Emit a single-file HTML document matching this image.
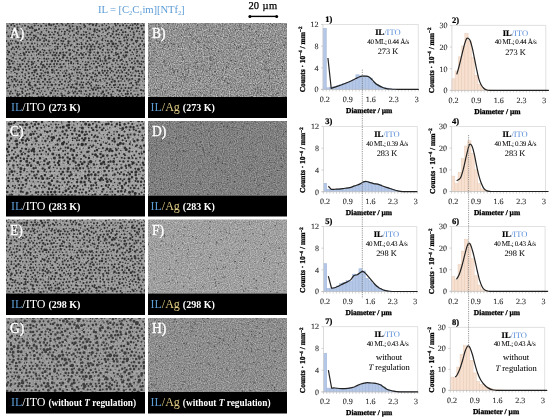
<!DOCTYPE html>
<html><head><meta charset="utf-8"><style>
html,body{margin:0;padding:0;background:#fff;}
body{width:550px;height:419px;position:relative;overflow:hidden;font-family:"Liberation Serif",serif;}
.pl{position:absolute;color:#fff;font-size:15px;line-height:16px;transform:scaleX(0.9);transform-origin:0 0;-webkit-text-stroke:0.4px #fff;}
.bl{position:absolute;color:#fff;font-size:12px;line-height:14px;white-space:nowrap;}
.bl b{font-size:10px;}
.b{color:#5b9bd5;}
.g{color:#e3cf86;}
.ttl{position:absolute;left:98px;top:1.7px;color:#5b9bd5;font-size:10.7px;letter-spacing:-0.1px;line-height:14px;white-space:nowrap;}
.ttl sub{font-size:6.5px;vertical-align:-1.5px;line-height:0;}
.sc{position:absolute;left:248.5px;top:0px;font-size:10.5px;line-height:12px;white-space:nowrap;color:#000;-webkit-text-stroke:0.25px #000;}
#w{position:absolute;left:0;top:0;width:550px;height:419px;will-change:transform;}
</style></head><body><div id="w">
<svg width="550" height="419" style="position:absolute;left:0;top:0"><defs><clipPath id="c00"><rect x="6" y="23" width="139" height="74"/></clipPath><clipPath id="c01"><rect x="148" y="23" width="139" height="74"/></clipPath><clipPath id="c10"><rect x="6" y="121" width="139" height="74.5"/></clipPath><clipPath id="c11"><rect x="148" y="121" width="139" height="74.5"/></clipPath><clipPath id="c20"><rect x="6" y="219.5" width="139" height="74.0"/></clipPath><clipPath id="c21"><rect x="148" y="219.5" width="139" height="74.0"/></clipPath><clipPath id="c30"><rect x="6" y="318" width="139" height="74"/></clipPath><clipPath id="c31"><rect x="148" y="318" width="139" height="74"/></clipPath><filter id="ag0" x="0" y="0" width="1" height="1" color-interpolation-filters="sRGB"><feTurbulence type="fractalNoise" baseFrequency="0.85" numOctaves="2" seed="3"/><feColorMatrix type="matrix" values="0.620 0 0 0 0.263  0.620 0 0 0 0.263  0.620 0 0 0 0.263  0 0 0 0 1"/><feGaussianBlur stdDeviation="0.35"/></filter><filter id="ag1" x="0" y="0" width="1" height="1" color-interpolation-filters="sRGB"><feTurbulence type="fractalNoise" baseFrequency="0.85" numOctaves="2" seed="4"/><feColorMatrix type="matrix" values="0.420 0 0 0 0.288  0.420 0 0 0 0.288  0.420 0 0 0 0.288  0 0 0 0 1"/><feGaussianBlur stdDeviation="0.35"/></filter><filter id="ag2" x="0" y="0" width="1" height="1" color-interpolation-filters="sRGB"><feTurbulence type="fractalNoise" baseFrequency="0.85" numOctaves="2" seed="5"/><feColorMatrix type="matrix" values="0.420 0 0 0 0.414  0.420 0 0 0 0.414  0.420 0 0 0 0.414  0 0 0 0 1"/><feGaussianBlur stdDeviation="0.35"/></filter><filter id="ag3" x="0" y="0" width="1" height="1" color-interpolation-filters="sRGB"><feTurbulence type="fractalNoise" baseFrequency="0.85" numOctaves="2" seed="6"/><feColorMatrix type="matrix" values="0.450 0 0 0 0.328  0.450 0 0 0 0.328  0.450 0 0 0 0.328  0 0 0 0 1"/><feGaussianBlur stdDeviation="0.35"/></filter><filter id="ib0" x="0" y="0" width="1" height="1" color-interpolation-filters="sRGB"><feTurbulence type="fractalNoise" baseFrequency="0.7" numOctaves="2" seed="11"/><feColorMatrix type="matrix" values="0.280 0 0 0 0.464  0.280 0 0 0 0.464  0.280 0 0 0 0.464  0 0 0 0 1"/></filter><filter id="ib1" x="0" y="0" width="1" height="1" color-interpolation-filters="sRGB"><feTurbulence type="fractalNoise" baseFrequency="0.7" numOctaves="2" seed="12"/><feColorMatrix type="matrix" values="0.280 0 0 0 0.495  0.280 0 0 0 0.495  0.280 0 0 0 0.495  0 0 0 0 1"/></filter><filter id="ib2" x="0" y="0" width="1" height="1" color-interpolation-filters="sRGB"><feTurbulence type="fractalNoise" baseFrequency="0.7" numOctaves="2" seed="13"/><feColorMatrix type="matrix" values="0.280 0 0 0 0.472  0.280 0 0 0 0.472  0.280 0 0 0 0.472  0 0 0 0 1"/></filter><filter id="ib3" x="0" y="0" width="1" height="1" color-interpolation-filters="sRGB"><feTurbulence type="fractalNoise" baseFrequency="0.7" numOctaves="2" seed="14"/><feColorMatrix type="matrix" values="0.280 0 0 0 0.464  0.280 0 0 0 0.464  0.280 0 0 0 0.464  0 0 0 0 1"/></filter><filter id="blur"><feGaussianBlur stdDeviation="0.4"/></filter></defs><g clip-path="url(#c00)"><rect x="6" y="23" width="139" height="74" fill="#9a9a9a" filter="url(#ib0)"/><g filter="url(#blur)" stroke="#303030" stroke-linecap="round" fill="none"><g class="p"><path d="M119.4 32.6h0M128.8 38.1h0M14.7 43.8h0M139.2 56.8h0M17.9 61.4h0M53.9 82.2h0M55.9 80.3h0M100.9 81.6h0M142.6 81.3h0M49.2 87.7h0M48.5 89.8h0M62.0 89.5h0M137.0 90.9h0M54.2 93.2h0M115.1 93.7h0" stroke-width="1.0"/><path d="M16.9 24.4h0M19.6 24.1h0M26.7 21.8h0M28.9 22.9h0M46.3 22.8h0M49.2 23.2h0M63.7 22.3h0M70.0 22.8h0M90.9 23.2h0M94.8 22.4h0M104.4 23.7h0M108.2 23.6h0M131.7 23.0h0M142.7 23.1h0M145.3 22.4h0M22.1 26.0h0M38.3 25.6h0M58.9 25.9h0M80.0 26.7h0M99.2 26.2h0M106.4 25.5h0M113.2 26.9h0M130.3 25.2h0M136.6 25.3h0M9.3 28.1h0M12.7 29.1h0M17.3 29.3h0M20.8 27.9h0M22.3 29.6h0M26.8 29.0h0M44.7 28.5h0M46.7 28.7h0M50.3 28.5h0M54.5 29.0h0M56.1 28.7h0M63.4 29.0h0M73.9 29.1h0M84.2 27.6h0M87.6 29.0h0M104.8 29.1h0M111.6 28.7h0M114.0 29.1h0M125.1 28.4h0M135.3 28.1h0M145.7 28.4h0M11.6 31.8h0M14.1 32.7h0M18.2 30.3h0M27.8 32.5h0M38.0 32.7h0M46.3 30.8h0M52.1 32.5h0M61.7 31.6h0M83.8 31.7h0M96.8 32.4h0M103.1 32.2h0M109.1 32.5h0M130.3 31.6h0M139.4 31.4h0M5.3 34.5h0M23.1 35.0h0M61.2 35.4h0M68.4 34.1h0M70.2 35.7h0M77.9 34.2h0M86.7 34.7h0M91.8 34.9h0M97.7 35.6h0M101.7 35.7h0M105.1 35.7h0M125.8 34.9h0M130.9 35.3h0M139.2 34.1h0M145.8 33.9h0M25.3 38.0h0M28.6 37.5h0M31.5 38.1h0M42.5 37.9h0M49.3 37.6h0M54.9 37.9h0M69.1 37.8h0M73.0 37.2h0M75.9 38.0h0M79.3 37.7h0M92.7 37.6h0M95.2 37.7h0M102.8 38.5h0M106.1 37.3h0M117.5 37.7h0M119.5 38.5h0M143.4 38.4h0M10.6 40.7h0M12.7 40.8h0M20.6 40.8h0M22.9 40.5h0M33.2 39.7h0M53.9 40.7h0M69.9 41.6h0M81.2 42.6h0M83.2 40.0h0M94.1 41.3h0M105.5 40.8h0M115.8 40.1h0M120.6 41.6h0M146.3 41.3h0M24.8 44.0h0M34.8 43.3h0M37.5 44.3h0M45.1 44.0h0M52.6 43.6h0M64.8 44.4h0M71.8 44.7h0M79.3 44.2h0M102.2 43.8h0M107.1 43.9h0M123.2 44.9h0M129.7 44.6h0M136.5 42.5h0M6.9 46.8h0M23.1 47.6h0M37.4 46.2h0M40.0 46.1h0M43.8 45.9h0M46.4 46.0h0M50.0 45.8h0M54.9 46.7h0M60.2 46.4h0M74.6 46.7h0M76.9 46.5h0M101.8 46.9h0M107.5 45.6h0M121.9 46.2h0M131.9 46.7h0M135.9 47.1h0M142.9 45.7h0M7.6 50.6h0M14.4 49.3h0M17.7 48.8h0M19.9 49.3h0M30.9 49.6h0M42.6 49.4h0M51.9 49.9h0M62.5 49.3h0M65.5 48.5h0M72.6 50.2h0M74.9 47.7h0M92.8 49.6h0M94.8 49.2h0M109.8 50.1h0M112.6 49.5h0M120.1 49.6h0M123.8 50.1h0M136.8 49.5h0M143.9 49.6h0M5.7 52.6h0M12.9 53.3h0M20.6 53.4h0M43.5 52.6h0M84.1 52.4h0M88.1 51.9h0M94.2 52.2h0M102.0 52.6h0M105.4 52.8h0M132.3 52.3h0M136.2 53.0h0M11.0 56.0h0M19.0 54.9h0M21.0 55.6h0M27.7 55.2h0M31.5 55.2h0M36.6 55.1h0M40.9 54.9h0M47.9 55.5h0M72.7 56.8h0M76.0 55.1h0M93.5 55.1h0M95.8 55.2h0M103.0 55.1h0M113.8 55.6h0M131.0 54.7h0M133.3 54.3h0M139.4 55.2h0M144.3 55.9h0M16.0 58.9h0M23.4 58.9h0M29.2 59.0h0M37.5 57.7h0M39.7 58.5h0M48.7 58.7h0M83.7 57.3h0M100.4 58.9h0M110.7 58.4h0M114.1 58.5h0M129.1 58.7h0M14.2 61.7h0M24.5 61.2h0M34.5 61.8h0M44.5 61.2h0M47.4 61.3h0M61.8 60.5h0M76.1 60.9h0M82.6 61.5h0M85.5 61.9h0M93.2 61.0h0M102.5 61.0h0M109.1 62.3h0M123.1 61.3h0M129.8 60.6h0M134.1 61.2h0M141.3 61.4h0M17.3 64.0h0M36.2 65.3h0M68.6 63.8h0M73.5 63.6h0M80.5 64.7h0M91.4 63.4h0M101.4 64.5h0M112.0 64.6h0M115.6 63.1h0M118.0 64.5h0M124.6 64.9h0M145.8 63.9h0M18.3 66.7h0M51.6 66.7h0M58.9 67.6h0M65.2 66.5h0M69.0 68.0h0M73.2 66.8h0M75.5 67.9h0M82.8 67.3h0M92.2 68.0h0M112.9 66.5h0M115.9 67.3h0M137.8 66.4h0M6.8 69.5h0M9.1 69.4h0M43.3 71.1h0M54.0 71.1h0M60.4 70.4h0M64.2 70.9h0M71.2 69.5h0M80.2 69.4h0M89.9 69.2h0M95.2 70.5h0M97.4 70.5h0M115.3 69.3h0M121.1 70.3h0M11.2 71.8h0M14.8 72.4h0M25.1 73.9h0M54.5 73.0h0M62.8 73.0h0M85.8 73.1h0M89.9 73.6h0M110.4 72.8h0M113.1 71.8h0M119.7 73.0h0M130.6 72.6h0M133.0 72.9h0M136.8 71.8h0M139.5 73.6h0M6.0 75.9h0M16.4 76.4h0M19.4 76.3h0M22.6 76.1h0M25.4 75.6h0M36.5 76.7h0M47.9 75.5h0M49.8 76.5h0M52.9 77.4h0M59.9 75.8h0M66.7 75.6h0M73.7 75.9h0M77.9 75.3h0M80.7 76.0h0M94.8 76.5h0M101.2 75.6h0M111.5 76.9h0M141.3 76.6h0M144.9 76.2h0M11.5 79.7h0M17.3 79.9h0M21.5 79.6h0M41.5 78.0h0M51.1 78.8h0M55.0 79.4h0M62.2 79.7h0M66.5 78.7h0M71.0 79.6h0M79.0 78.9h0M86.4 79.3h0M89.4 79.4h0M96.2 79.3h0M103.1 78.7h0M120.7 77.9h0M135.3 80.5h0M6.7 82.6h0M34.2 81.6h0M39.1 82.1h0M68.1 82.3h0M74.9 81.1h0M77.3 82.1h0M83.6 82.4h0M91.5 82.3h0M97.9 81.7h0M104.8 80.9h0M121.2 81.1h0M124.7 80.9h0M128.3 81.0h0M8.3 85.3h0M24.1 84.4h0M39.5 84.2h0M40.5 84.5h0M48.5 85.1h0M64.7 84.9h0M98.7 85.4h0M102.7 86.1h0M106.6 85.5h0M125.9 85.0h0M129.8 83.8h0M139.3 85.1h0M144.3 85.3h0M9.1 87.5h0M13.6 87.1h0M15.8 86.6h0M20.9 88.2h0M57.5 88.4h0M60.1 88.7h0M91.5 88.3h0M108.2 87.7h0M111.7 87.4h0M114.7 87.4h0M138.0 87.9h0M8.1 91.0h0M17.8 91.8h0M25.5 91.0h0M27.6 90.0h0M32.4 89.7h0M38.6 91.3h0M41.6 91.0h0M44.9 91.3h0M58.2 90.9h0M65.2 90.7h0M68.6 91.3h0M72.5 90.9h0M90.0 90.6h0M98.7 90.9h0M110.0 89.4h0M130.8 90.2h0M134.0 90.9h0M140.7 90.3h0M5.0 95.0h0M12.6 93.4h0M40.1 92.8h0M42.7 94.2h0M46.2 94.5h0M57.6 93.8h0M64.7 95.3h0M69.7 92.7h0M81.1 93.3h0M84.4 94.1h0M86.5 94.4h0M97.7 93.9h0M118.3 94.6h0M121.6 93.8h0M135.1 94.4h0M141.5 93.7h0M15.1 96.7h0M22.3 96.2h0M32.3 96.9h0M68.7 96.5h0M99.3 96.8h0M116.6 96.4h0M122.8 95.6h0M129.5 96.4h0M145.7 97.0h0M105.0 98.5h0M120.9 99.0h0" stroke-width="1.5"/><path d="M5.3 23.2h0M9.7 22.4h0M13.2 23.4h0M23.2 22.6h0M36.4 23.2h0M40.0 22.3h0M43.6 23.1h0M53.6 24.4h0M57.1 23.7h0M67.9 23.5h0M78.1 22.5h0M80.4 23.2h0M84.0 22.5h0M87.5 22.7h0M96.7 23.7h0M101.5 22.0h0M111.5 22.3h0M115.0 23.8h0M117.8 23.4h0M122.3 22.6h0M125.1 23.1h0M128.1 22.7h0M137.8 23.9h0M7.7 26.1h0M11.2 25.0h0M14.4 26.0h0M17.6 27.5h0M25.0 25.5h0M28.2 26.7h0M31.6 26.8h0M34.6 25.6h0M41.1 26.1h0M46.1 25.5h0M51.2 25.2h0M55.6 26.7h0M62.5 24.8h0M66.0 25.2h0M69.5 26.0h0M72.6 26.3h0M77.0 26.9h0M84.1 25.1h0M85.2 26.3h0M89.5 24.2h0M96.0 25.5h0M102.4 25.2h0M109.2 27.3h0M115.8 25.6h0M119.8 25.7h0M123.0 25.3h0M126.5 25.8h0M132.6 25.2h0M141.1 25.7h0M143.6 25.3h0M5.2 28.8h0M29.9 28.1h0M32.6 28.3h0M36.3 30.0h0M39.0 29.0h0M59.6 29.5h0M67.2 30.0h0M70.2 28.2h0M77.1 28.9h0M80.9 28.7h0M90.2 29.1h0M94.6 29.3h0M97.3 29.7h0M102.3 29.2h0M107.9 28.7h0M118.0 29.6h0M121.4 30.0h0M142.0 28.8h0M6.5 32.4h0M21.9 30.6h0M24.4 31.4h0M31.7 32.5h0M41.5 31.9h0M48.7 32.1h0M55.0 31.8h0M57.8 33.0h0M64.9 31.7h0M69.4 31.6h0M72.6 30.7h0M76.4 32.9h0M78.3 31.5h0M86.0 32.3h0M89.5 33.4h0M99.4 31.1h0M105.9 30.5h0M113.4 31.6h0M116.4 31.1h0M123.0 32.3h0M125.5 31.9h0M133.6 32.2h0M136.8 31.3h0M10.7 35.7h0M12.8 34.0h0M15.8 34.3h0M20.7 36.1h0M27.2 35.1h0M30.2 34.5h0M34.0 35.4h0M35.8 36.3h0M40.6 34.2h0M43.8 35.0h0M45.8 35.6h0M50.0 34.8h0M53.8 34.6h0M58.8 35.3h0M64.6 34.0h0M74.0 35.1h0M81.4 34.8h0M83.8 34.8h0M93.4 34.8h0M107.6 34.0h0M112.6 33.9h0M116.4 34.4h0M118.6 34.5h0M121.8 34.7h0M128.1 35.0h0M134.1 34.6h0M142.6 34.8h0M8.3 36.2h0M14.0 37.3h0M17.7 38.1h0M19.8 38.4h0M34.3 38.1h0M38.0 37.9h0M44.6 38.5h0M52.3 37.6h0M58.5 38.9h0M62.9 37.9h0M65.6 39.1h0M81.2 37.9h0M86.4 36.9h0M98.8 36.6h0M110.8 36.0h0M113.8 37.4h0M124.1 37.5h0M126.4 37.3h0M133.5 37.0h0M137.7 37.7h0M140.5 38.0h0M6.5 40.9h0M15.8 41.5h0M26.9 39.6h0M30.8 40.0h0M37.4 40.3h0M40.0 40.0h0M44.0 40.9h0M46.3 40.1h0M48.9 41.3h0M56.5 40.6h0M61.2 40.8h0M63.3 41.2h0M68.3 41.3h0M74.2 41.3h0M76.8 40.1h0M87.4 40.9h0M90.8 40.2h0M97.4 41.4h0M102.2 40.1h0M107.9 41.1h0M119.2 41.5h0M124.5 40.5h0M127.4 39.9h0M135.9 41.0h0M137.3 40.7h0M142.1 40.9h0M8.4 43.3h0M11.3 43.6h0M21.4 43.2h0M27.9 43.0h0M32.0 43.5h0M42.0 44.1h0M47.9 44.2h0M55.0 43.2h0M58.2 44.2h0M62.3 43.8h0M68.5 43.2h0M77.3 44.0h0M81.7 44.2h0M85.8 43.5h0M89.4 44.2h0M92.9 44.4h0M96.5 43.3h0M99.4 44.4h0M109.0 43.6h0M116.0 43.8h0M120.7 43.5h0M126.9 43.2h0M133.4 43.6h0M140.2 44.3h0M144.0 44.2h0M9.1 45.1h0M12.8 47.4h0M16.1 47.0h0M18.7 46.8h0M25.5 47.1h0M30.2 46.6h0M33.4 46.7h0M57.3 46.7h0M64.8 46.4h0M67.5 45.4h0M70.7 45.5h0M81.4 46.9h0M84.3 46.5h0M87.4 46.5h0M94.5 46.8h0M98.4 47.1h0M103.8 46.0h0M111.4 46.5h0M114.7 46.6h0M117.7 45.7h0M125.5 47.6h0M128.0 46.1h0M138.9 46.1h0M145.1 46.3h0M11.5 49.3h0M24.5 49.0h0M28.0 49.4h0M37.9 49.9h0M44.4 50.4h0M49.4 50.5h0M55.1 49.5h0M57.7 48.4h0M78.0 49.9h0M81.6 48.5h0M86.7 48.7h0M100.1 48.6h0M102.9 49.9h0M107.6 49.8h0M126.7 48.6h0M130.1 50.2h0M134.2 49.4h0M140.2 49.1h0M16.4 52.1h0M23.5 53.0h0M26.2 51.9h0M29.0 52.3h0M32.8 51.7h0M36.5 51.5h0M40.2 52.1h0M46.5 53.0h0M50.4 52.8h0M53.8 52.6h0M56.6 52.9h0M63.2 52.6h0M66.4 52.5h0M70.3 53.4h0M74.0 51.6h0M76.9 52.8h0M81.0 53.3h0M108.2 52.5h0M111.7 52.0h0M115.8 52.7h0M117.9 53.9h0M121.1 52.8h0M125.6 52.2h0M127.3 52.3h0M137.3 51.4h0M142.0 52.4h0M146.5 52.9h0M7.9 54.5h0M14.3 54.4h0M38.7 54.1h0M43.6 55.0h0M52.7 55.3h0M58.9 55.6h0M63.4 54.9h0M64.9 55.3h0M69.7 54.9h0M79.1 55.1h0M85.9 54.3h0M89.3 55.2h0M99.6 56.1h0M105.4 56.5h0M109.1 55.4h0M116.2 54.8h0M118.9 56.4h0M123.4 55.6h0M136.9 55.7h0M6.9 58.8h0M9.5 60.0h0M13.1 57.7h0M20.0 58.4h0M25.3 58.3h0M33.3 58.4h0M44.2 58.4h0M46.6 58.9h0M53.9 58.5h0M57.0 58.1h0M59.8 59.2h0M67.1 57.7h0M70.7 58.6h0M74.1 58.7h0M76.2 58.3h0M81.4 58.1h0M87.9 58.3h0M90.6 58.6h0M94.6 57.9h0M104.7 58.2h0M118.7 57.9h0M121.8 59.4h0M124.6 57.3h0M131.9 58.7h0M135.2 58.3h0M142.6 58.1h0M146.3 58.1h0M8.3 61.9h0M11.6 61.1h0M22.2 60.3h0M28.5 61.5h0M31.8 62.1h0M38.1 60.7h0M41.7 61.9h0M55.1 60.9h0M58.0 61.3h0M66.0 60.8h0M68.4 60.7h0M71.2 62.1h0M77.6 60.9h0M88.5 62.2h0M96.0 61.4h0M100.5 61.0h0M116.8 60.4h0M120.4 60.5h0M126.5 62.0h0M143.3 61.8h0M5.0 64.6h0M12.9 63.5h0M19.7 64.5h0M22.7 64.1h0M26.9 64.1h0M31.7 64.4h0M33.3 63.6h0M41.0 64.0h0M46.9 64.2h0M50.2 64.3h0M54.1 64.1h0M56.9 63.9h0M60.2 64.2h0M63.7 63.9h0M71.1 63.3h0M77.8 63.5h0M85.3 64.7h0M86.8 64.5h0M93.9 63.7h0M98.0 63.2h0M104.0 63.4h0M107.0 63.6h0M122.0 64.0h0M127.4 64.4h0M131.9 62.7h0M134.9 63.5h0M139.4 63.5h0M141.4 64.3h0M7.9 67.3h0M14.4 67.7h0M20.4 66.6h0M25.4 66.8h0M28.6 66.1h0M32.2 67.4h0M35.1 67.1h0M38.6 67.0h0M42.4 67.4h0M44.9 66.9h0M49.1 66.4h0M54.5 66.5h0M78.8 67.1h0M85.7 67.4h0M89.8 66.4h0M99.5 65.8h0M102.6 66.7h0M106.8 67.3h0M123.3 67.5h0M125.5 67.8h0M130.5 67.0h0M140.3 67.0h0M144.3 67.6h0M13.6 70.2h0M15.6 69.3h0M23.0 69.4h0M26.2 70.2h0M29.5 68.9h0M34.1 70.4h0M40.8 70.1h0M46.9 68.7h0M56.7 70.1h0M66.6 70.6h0M74.3 69.7h0M77.5 69.6h0M85.2 70.1h0M87.3 69.9h0M102.3 70.4h0M104.8 70.7h0M107.7 70.8h0M111.6 70.8h0M118.3 70.6h0M124.5 70.1h0M128.8 70.0h0M132.7 69.0h0M135.6 70.7h0M138.4 71.0h0M142.0 71.2h0M145.3 69.8h0M6.4 72.7h0M16.9 73.8h0M22.1 72.6h0M28.7 73.3h0M32.1 72.8h0M34.6 72.2h0M37.3 74.0h0M41.5 73.4h0M45.2 72.5h0M52.4 72.6h0M58.3 73.1h0M65.7 73.2h0M69.2 74.3h0M72.2 73.4h0M76.9 72.5h0M79.5 72.4h0M81.5 73.8h0M93.0 73.0h0M95.4 74.2h0M103.0 73.0h0M106.8 73.0h0M116.7 72.5h0M122.3 72.0h0M126.4 73.1h0M142.5 73.2h0M9.6 76.7h0M12.0 76.7h0M29.3 76.7h0M33.7 75.3h0M43.7 75.4h0M56.8 76.1h0M70.4 76.3h0M83.8 75.8h0M97.0 75.7h0M105.4 75.3h0M108.0 75.7h0M114.6 75.3h0M118.6 76.1h0M121.4 76.2h0M125.4 76.0h0M128.3 74.6h0M131.5 75.6h0M135.2 75.8h0M139.0 76.0h0M7.9 78.2h0M25.0 77.9h0M28.2 80.1h0M31.8 78.8h0M34.5 78.4h0M38.7 79.3h0M49.2 79.4h0M58.5 79.0h0M69.6 77.7h0M82.1 78.7h0M93.2 79.7h0M100.2 80.1h0M106.0 78.4h0M109.5 78.9h0M112.5 79.6h0M117.3 78.1h0M122.6 79.0h0M126.8 78.7h0M129.5 79.6h0M132.3 78.8h0M144.4 79.1h0M8.4 82.7h0M12.4 81.6h0M16.0 81.2h0M19.5 81.9h0M21.7 81.9h0M26.6 82.1h0M29.8 82.4h0M37.6 82.1h0M43.0 81.7h0M47.4 82.1h0M50.1 82.3h0M60.1 81.8h0M65.1 81.6h0M69.9 81.2h0M81.5 82.2h0M88.1 82.2h0M95.6 80.9h0M107.0 83.2h0M111.7 82.0h0M118.6 81.2h0M131.2 82.9h0M136.1 82.6h0M138.2 81.7h0M145.4 81.4h0M9.8 85.5h0M14.2 84.9h0M17.8 84.7h0M21.0 84.8h0M30.5 85.4h0M44.8 84.5h0M55.6 84.6h0M59.2 84.9h0M61.8 84.0h0M68.5 85.0h0M72.4 84.7h0M79.8 84.8h0M82.6 84.9h0M86.4 84.0h0M89.8 83.7h0M91.1 85.7h0M96.4 85.2h0M109.8 84.8h0M113.8 85.2h0M115.3 84.8h0M119.8 84.7h0M123.2 84.8h0M132.9 85.5h0M136.7 84.6h0M7.2 88.3h0M22.6 88.8h0M25.6 86.9h0M30.1 88.7h0M32.3 87.5h0M37.3 88.5h0M39.3 88.4h0M43.2 87.6h0M47.7 87.8h0M53.8 88.4h0M63.5 88.4h0M67.1 87.5h0M73.9 87.4h0M81.2 87.6h0M83.4 87.6h0M88.2 87.7h0M94.5 87.4h0M100.3 87.9h0M104.2 87.5h0M118.2 87.3h0M121.4 88.2h0M125.4 88.0h0M128.7 88.1h0M131.3 87.8h0M136.1 88.3h0M141.1 90.0h0M145.5 87.3h0M10.8 91.5h0M15.5 90.6h0M22.1 91.5h0M34.2 90.8h0M52.3 90.4h0M55.4 90.9h0M75.2 91.4h0M79.1 91.0h0M81.2 91.3h0M85.8 90.9h0M95.9 89.8h0M106.5 90.4h0M112.9 91.6h0M117.3 90.0h0M123.8 90.4h0M127.6 91.2h0M143.3 90.7h0M146.4 90.0h0M9.8 93.5h0M17.2 94.0h0M19.6 94.3h0M22.6 92.9h0M26.8 94.1h0M29.3 93.7h0M33.3 93.1h0M37.2 94.0h0M61.4 93.6h0M68.2 93.3h0M73.6 93.0h0M77.3 93.6h0M89.8 94.0h0M93.7 93.5h0M101.4 93.4h0M104.2 94.6h0M108.4 93.0h0M111.2 94.4h0M125.6 93.9h0M131.0 93.6h0M137.9 94.7h0M145.4 93.7h0M8.2 97.4h0M10.9 97.0h0M25.6 96.0h0M29.6 96.7h0M35.0 98.8h0M38.6 96.7h0M41.4 96.7h0M43.6 96.7h0M48.4 96.4h0M52.9 96.4h0M55.4 96.2h0M58.0 97.3h0M65.8 97.2h0M71.9 96.7h0M75.2 96.2h0M79.5 96.9h0M81.9 97.5h0M86.3 97.0h0M88.8 96.3h0M93.1 96.4h0M96.8 96.6h0M103.4 96.5h0M106.6 96.0h0M111.4 96.2h0M113.2 97.1h0M119.8 96.6h0M126.1 96.8h0M132.7 96.2h0M136.9 97.1h0M141.7 97.3h0M144.4 97.3h0M26.6 98.2h0M37.2 98.4h0M53.0 98.2h0M70.1 98.9h0M108.8 98.7h0" stroke-width="2.0"/><path d="M34.1 22.6h0M61.5 22.7h0M72.8 23.0h0M135.0 23.5h0M49.3 24.5h0M92.9 24.7h0M129.0 27.7h0M132.2 28.7h0M137.9 28.1h0M34.8 30.4h0M94.5 31.2h0M143.7 31.9h0M11.0 37.2h0M89.4 38.0h0M111.5 41.3h0M131.8 39.7h0M17.8 43.1h0M91.1 46.5h0M34.4 49.0h0M69.5 50.1h0M90.2 49.7h0M116.6 48.4h0M9.0 52.1h0M60.2 53.0h0M90.2 52.5h0M97.9 52.7h0M24.4 54.5h0M55.3 55.2h0M82.6 54.8h0M126.2 55.5h0M63.0 57.4h0M97.8 58.5h0M108.9 58.2h0M51.8 61.1h0M105.6 60.6h0M113.4 60.4h0M137.6 61.3h0M9.4 63.9h0M43.3 65.2h0M10.4 67.2h0M61.4 67.0h0M96.5 67.3h0M110.0 68.4h0M119.8 67.0h0M133.4 67.4h0M18.4 69.4h0M36.1 70.3h0M52.2 70.0h0M47.8 72.6h0M99.2 73.1h0M40.2 76.2h0M64.1 76.1h0M87.1 75.5h0M91.5 77.2h0M14.6 79.2h0M45.0 79.3h0M77.6 78.2h0M139.1 79.6h0M114.7 81.3h0M29.0 84.6h0M35.3 85.3h0M51.8 85.1h0M76.5 84.1h0M71.2 87.3h0M76.4 88.4h0M97.7 87.9h0M93.0 89.5h0M102.9 91.7h0M119.7 90.9h0M50.8 93.1h0M127.7 93.7h0M17.8 95.4h0M62.3 95.7h0" stroke-width="2.5"/><path d="M113.0 43.7h0" stroke-width="3.0"/></g></g></g><rect x="6" y="97" width="139" height="21" fill="#000"/><g clip-path="url(#c01)"><rect x="148" y="23" width="139" height="74" fill="#888" filter="url(#ag0)"/><path d="M237.9 90.4h0M240.3 46.5h0M152.2 61.8h0M172.7 86.4h0M227.7 83.9h0M224.6 80.3h0M221.2 77.8h0M200.0 57.2h0M156.5 27.4h0M199.4 80.7h0M197.7 25.1h0M181.6 34.8h0M154.1 47.9h0M274.3 42.5h0M221.2 50.6h0M163.8 61.5h0M167.6 23.7h0M210.1 58.4h0M217.7 94.8h0M257.2 57.5h0M153.7 51.3h0M185.8 76.1h0M266.1 69.6h0M275.8 24.8h0M226.1 78.6h0M185.1 77.9h0M250.3 26.9h0M152.8 93.1h0M238.4 47.4h0M173.1 70.1h0M211.4 79.8h0M242.0 69.2h0M269.1 49.8h0M254.2 93.1h0M251.1 44.8h0M249.5 26.2h0M209.6 53.2h0M187.0 29.6h0M265.9 63.1h0M231.8 87.1h0M237.0 95.5h0M181.4 55.1h0M284.0 45.4h0M262.2 37.9h0M215.4 34.6h0M160.0 42.1h0M286.0 26.1h0M178.5 46.4h0M219.9 44.6h0M256.6 58.4h0M156.5 35.4h0M215.3 71.5h0M272.0 68.9h0M278.6 35.2h0M242.0 56.9h0M260.2 45.1h0M203.5 70.2h0M206.7 71.6h0M284.9 44.8h0M209.5 30.2h0M190.0 47.0h0M223.0 28.8h0M218.2 85.6h0M257.7 87.6h0M265.3 89.5h0M165.2 91.8h0M188.4 72.1h0M235.5 29.8h0M173.2 87.6h0M225.9 71.9h0M240.9 86.4h0M193.8 66.5h0M164.2 60.9h0M183.1 73.8h0M198.1 41.4h0M208.1 48.5h0M258.8 74.5h0M179.9 86.3h0M159.5 42.7h0M205.0 95.5h0M210.6 66.7h0M271.8 78.6h0M150.7 45.4h0M199.0 51.1h0M267.3 85.5h0M226.6 67.7h0M184.5 79.4h0M244.3 75.2h0M256.0 89.7h0M161.2 86.1h0M281.8 83.0h0M283.1 60.9h0M204.8 45.5h0M253.9 76.7h0M229.0 83.4h0M161.3 88.2h0M277.4 61.6h0M266.1 62.0h0M253.4 38.4h0M204.5 64.8h0M181.9 76.8h0M277.0 93.5h0M253.9 85.2h0M173.8 44.2h0M234.3 63.7h0M211.0 60.2h0M188.3 28.8h0M157.5 72.6h0M286.9 24.4h0M217.1 31.3h0M229.0 28.2h0M269.9 78.2h0M273.1 94.5h0M271.1 60.9h0M206.5 85.9h0M264.8 68.9h0M246.2 47.1h0M228.8 63.2h0M212.3 90.3h0M224.7 80.9h0M149.2 60.4h0M197.8 67.0h0M210.3 68.3h0M210.5 81.8h0M275.0 68.7h0M156.5 90.3h0M273.2 73.9h0M271.8 39.8h0M243.4 50.0h0M191.7 44.8h0M193.0 32.0h0M158.7 24.3h0M206.3 37.0h0M213.9 59.5h0M285.8 43.0h0M192.9 79.0h0M240.3 29.1h0M258.0 92.5h0M230.1 48.3h0M255.4 47.3h0M206.9 47.4h0M192.9 39.2h0M272.4 25.0h0M243.4 30.6h0M284.4 71.4h0M165.8 65.2h0M164.5 40.8h0M265.5 82.5h0M196.8 68.9h0M278.6 78.7h0M185.1 69.7h0M218.5 51.4h0M212.6 74.3h0M162.6 48.7h0M268.1 71.0h0M159.0 26.4h0M230.7 37.0h0M212.3 63.9h0M173.6 72.6h0M152.5 77.2h0M183.7 59.5h0M285.5 38.3h0M182.6 73.7h0M240.3 68.3h0M214.7 55.1h0M192.6 94.6h0M262.3 50.9h0M200.4 92.6h0M198.0 75.2h0M156.1 40.5h0M177.6 71.5h0M239.8 25.8h0M156.0 67.3h0M278.2 93.2h0M256.3 74.3h0M231.3 60.4h0M209.6 68.9h0M171.4 43.4h0M260.6 91.0h0M268.8 69.7h0M156.6 57.2h0M189.5 93.3h0M200.4 78.1h0M222.6 70.0h0M235.3 61.4h0M282.7 69.1h0M265.2 93.3h0M265.1 52.8h0M199.1 42.3h0M230.9 79.9h0M187.1 82.8h0M252.3 96.3h0M271.5 87.1h0M196.5 62.7h0M208.6 42.8h0M168.6 46.2h0M150.1 43.3h0M234.5 44.5h0M205.1 25.4h0M201.9 65.9h0M256.7 31.7h0M272.3 48.1h0M190.5 34.5h0M219.1 79.4h0M249.1 32.3h0M226.8 66.4h0M260.4 88.8h0M172.4 68.5h0M149.6 28.6h0M150.0 64.0h0M211.1 49.0h0M246.4 66.1h0M248.3 76.3h0M210.5 92.8h0M258.4 35.9h0M173.9 29.3h0M282.5 66.7h0M174.4 71.2h0M164.4 45.0h0M150.9 58.5h0" stroke="#3a3a3a" stroke-width="1.3" stroke-linecap="round" opacity="0.8"/></g><rect x="148" y="97" width="139" height="21" fill="#000"/><g clip-path="url(#c10)"><rect x="6" y="121" width="139" height="74.5" fill="#a2a2a2" filter="url(#ib1)"/><g filter="url(#blur)" stroke="#2e2e2e" stroke-linecap="round" fill="none"><g class="p"><path d="M140.6 136.8h0M119.4 143.3h0M50.1 143.2h0M43.1 157.4h0M101.5 171.5h0M15.4 192.2h0" stroke-width="0.5"/><path d="M103.2 119.5h0M61.9 123.5h0M107.8 129.4h0M27.8 132.0h0M39.2 130.4h0M58.8 132.1h0M21.6 133.3h0M45.4 136.0h0M103.4 134.7h0M16.2 138.7h0M104.5 137.1h0M33.9 142.0h0M107.5 142.1h0M12.1 143.8h0M112.4 144.3h0M38.3 147.7h0M83.3 148.0h0M77.6 152.4h0M125.2 150.5h0M45.8 154.8h0M80.2 154.3h0M89.2 155.3h0M51.5 158.9h0M78.0 158.9h0M93.5 157.0h0M40.9 161.9h0M95.6 160.9h0M35.8 166.0h0M63.1 163.7h0M74.2 171.4h0M80.3 171.7h0M125.1 170.7h0M79.8 175.8h0M57.9 178.5h0M46.7 186.1h0M65.2 187.9h0M96.7 191.8h0M79.8 195.0h0" stroke-width="1.0"/><path d="M43.8 120.0h0M61.6 122.1h0M63.2 119.9h0M75.9 120.8h0M43.6 125.3h0M46.3 125.1h0M51.1 124.3h0M58.5 124.6h0M73.8 125.0h0M77.4 123.8h0M81.3 125.1h0M143.3 124.0h0M5.3 128.3h0M10.1 126.9h0M12.8 127.8h0M44.5 126.9h0M52.1 127.7h0M80.0 127.5h0M88.6 127.6h0M109.9 127.8h0M120.0 128.5h0M138.2 128.3h0M15.4 131.7h0M32.3 131.8h0M70.6 130.5h0M105.7 130.3h0M114.0 131.8h0M121.9 130.4h0M145.3 131.3h0M36.7 133.5h0M51.9 134.0h0M56.4 135.7h0M99.2 133.1h0M111.4 135.5h0M114.0 134.3h0M138.4 135.0h0M7.1 136.7h0M19.5 138.1h0M31.5 137.9h0M43.2 138.1h0M101.4 138.2h0M133.1 139.0h0M137.5 139.3h0M7.4 140.2h0M42.1 141.0h0M49.7 141.7h0M59.9 141.1h0M68.4 142.1h0M72.6 140.5h0M91.8 140.7h0M99.6 140.4h0M103.4 141.9h0M130.3 141.9h0M35.3 144.1h0M38.8 144.7h0M42.8 144.6h0M55.5 144.7h0M73.3 144.9h0M90.2 145.3h0M97.8 143.6h0M132.5 145.0h0M29.0 149.2h0M55.3 147.7h0M79.8 149.1h0M96.0 147.2h0M98.9 148.6h0M115.7 148.6h0M118.2 148.3h0M139.2 147.7h0M145.3 148.0h0M15.4 152.1h0M23.2 152.2h0M54.1 150.3h0M65.3 150.6h0M70.5 151.0h0M101.2 151.5h0M105.3 150.7h0M120.8 150.5h0M132.2 151.6h0M141.2 151.9h0M56.5 155.1h0M131.6 156.0h0M34.7 158.5h0M104.8 159.0h0M108.4 158.8h0M117.1 157.3h0M16.3 161.7h0M88.2 161.9h0M131.6 161.8h0M20.0 164.3h0M22.9 165.4h0M50.2 166.3h0M70.0 164.5h0M75.8 165.7h0M96.8 164.4h0M113.9 164.3h0M121.1 164.8h0M140.3 165.1h0M13.7 168.1h0M18.1 167.3h0M30.9 166.5h0M53.5 167.5h0M57.0 168.2h0M90.9 167.7h0M94.9 167.7h0M103.6 167.7h0M119.6 169.1h0M9.1 172.0h0M27.0 171.7h0M46.3 172.0h0M54.4 171.3h0M59.2 171.6h0M112.7 170.8h0M140.2 171.7h0M17.2 173.5h0M26.5 176.0h0M50.1 176.5h0M64.4 175.0h0M98.2 175.5h0M112.7 175.3h0M139.0 174.3h0M143.0 175.4h0M145.1 174.6h0M49.6 178.5h0M70.6 178.7h0M98.3 179.3h0M113.8 178.7h0M13.0 181.3h0M21.1 181.9h0M29.6 180.9h0M33.2 181.8h0M38.0 181.7h0M41.1 182.4h0M60.1 182.4h0M71.8 182.7h0M114.5 182.6h0M15.3 185.7h0M62.2 185.2h0M82.6 186.1h0M113.0 185.5h0M117.8 185.2h0M9.6 187.4h0M25.3 187.1h0M29.2 189.0h0M34.1 187.3h0M37.1 188.2h0M41.6 187.7h0M88.5 188.0h0M98.4 187.7h0M118.2 187.9h0M30.6 191.7h0M93.8 191.2h0M106.9 192.0h0M110.1 191.9h0M6.3 195.2h0M26.1 194.3h0M38.0 194.4h0M83.0 195.3h0M88.6 194.6h0M100.1 194.5h0M120.4 197.4h0M129.5 197.2h0" stroke-width="1.5"/><path d="M10.4 120.8h0M20.4 120.8h0M29.2 120.2h0M33.9 121.1h0M73.8 121.4h0M80.5 121.2h0M88.0 121.2h0M91.6 120.8h0M98.9 122.0h0M119.8 122.4h0M125.6 120.1h0M133.8 120.2h0M142.1 121.4h0M146.6 120.7h0M14.0 123.2h0M20.0 124.8h0M31.4 123.5h0M55.8 124.4h0M92.9 123.8h0M96.7 125.2h0M102.3 124.8h0M111.8 124.7h0M128.4 123.3h0M132.2 124.1h0M137.2 125.7h0M140.6 125.0h0M25.3 127.8h0M32.9 126.4h0M41.2 127.8h0M48.8 126.2h0M60.4 127.6h0M72.2 127.6h0M75.0 128.4h0M91.8 128.0h0M99.7 127.4h0M103.7 128.3h0M115.3 126.6h0M146.2 127.5h0M8.7 130.6h0M23.7 130.5h0M35.0 131.5h0M44.8 131.3h0M50.1 131.1h0M79.2 131.3h0M86.0 131.7h0M89.5 131.7h0M97.0 130.4h0M109.2 132.5h0M117.1 131.8h0M124.6 131.6h0M129.5 130.1h0M133.7 129.4h0M136.0 130.6h0M13.2 134.3h0M25.0 135.3h0M48.8 136.3h0M60.1 135.5h0M67.7 135.2h0M76.5 134.3h0M87.0 134.3h0M91.7 135.0h0M95.2 135.4h0M107.4 134.8h0M123.2 135.5h0M127.6 134.8h0M130.5 134.5h0M142.3 135.4h0M145.1 134.5h0M23.1 137.3h0M47.5 138.4h0M51.3 137.3h0M62.7 138.1h0M67.0 137.4h0M72.7 138.3h0M75.0 138.2h0M77.4 137.8h0M82.1 138.2h0M88.9 138.2h0M94.1 137.1h0M121.6 136.1h0M125.0 138.2h0M143.5 137.9h0M9.5 140.8h0M28.9 140.2h0M57.5 140.5h0M76.9 140.3h0M79.2 140.3h0M89.0 140.5h0M112.3 140.8h0M122.6 140.2h0M126.3 141.0h0M146.6 141.0h0M8.0 144.3h0M19.7 142.7h0M22.9 143.0h0M31.9 144.6h0M47.6 145.5h0M66.8 143.7h0M70.6 145.1h0M93.3 145.4h0M106.0 143.2h0M109.3 144.3h0M129.8 144.1h0M137.0 145.2h0M140.6 146.2h0M17.1 147.3h0M21.9 148.4h0M40.7 148.0h0M44.3 147.6h0M53.2 147.6h0M60.7 148.4h0M65.6 147.5h0M76.6 147.8h0M91.9 146.8h0M102.9 148.0h0M129.7 148.3h0M135.8 146.3h0M141.4 148.2h0M12.0 150.6h0M39.8 150.9h0M42.8 150.6h0M46.2 151.7h0M50.2 150.8h0M58.7 150.0h0M63.1 150.9h0M81.3 152.3h0M88.7 151.5h0M94.8 151.0h0M136.3 151.4h0M6.8 155.7h0M9.2 154.8h0M13.8 154.2h0M25.1 153.8h0M34.2 154.4h0M37.3 154.4h0M41.3 154.2h0M48.2 154.2h0M65.1 154.6h0M67.8 153.6h0M92.6 154.2h0M112.0 155.8h0M119.3 153.5h0M124.0 154.1h0M125.0 155.2h0M134.3 155.3h0M139.2 153.7h0M141.8 153.8h0M145.7 154.4h0M6.0 158.6h0M20.5 158.1h0M27.2 158.6h0M31.2 159.0h0M46.3 158.9h0M81.0 158.9h0M85.7 157.3h0M101.0 157.6h0M114.2 158.6h0M121.8 157.8h0M124.5 158.2h0M132.4 158.0h0M136.0 158.5h0M140.1 157.6h0M9.9 161.0h0M14.0 160.4h0M29.6 162.7h0M49.4 161.9h0M54.3 162.2h0M64.4 160.5h0M80.5 161.7h0M100.0 160.8h0M108.3 162.0h0M119.8 161.3h0M128.1 161.3h0M138.5 161.9h0M146.4 161.8h0M8.5 164.8h0M17.4 165.0h0M39.5 164.7h0M44.0 164.6h0M55.2 165.2h0M68.2 163.3h0M88.5 164.1h0M104.6 164.3h0M116.8 164.5h0M132.3 164.0h0M136.6 164.6h0M5.6 168.6h0M9.9 168.9h0M24.6 168.8h0M35.9 168.1h0M44.9 169.4h0M60.7 168.8h0M64.2 168.6h0M73.3 168.5h0M83.3 168.3h0M88.5 168.5h0M99.9 168.1h0M112.3 168.2h0M126.2 168.0h0M130.7 167.5h0M135.3 168.7h0M141.8 167.8h0M146.8 168.3h0M14.4 171.6h0M24.1 170.4h0M31.6 171.4h0M33.6 171.8h0M44.4 171.1h0M50.3 171.6h0M70.5 172.0h0M77.9 170.5h0M85.3 171.4h0M93.6 172.0h0M109.0 170.9h0M117.8 172.6h0M121.2 172.2h0M128.2 172.4h0M9.4 174.3h0M13.0 175.1h0M20.6 174.7h0M29.5 174.6h0M36.9 174.6h0M57.5 176.3h0M76.1 175.2h0M103.6 175.4h0M119.7 173.9h0M126.7 175.2h0M8.2 178.1h0M12.5 178.7h0M19.2 178.5h0M22.7 177.7h0M27.9 178.1h0M32.2 178.3h0M38.8 178.4h0M53.9 178.0h0M66.9 178.1h0M73.0 178.9h0M77.3 179.4h0M89.1 178.6h0M109.4 179.4h0M118.0 178.9h0M120.5 179.0h0M124.2 179.3h0M141.6 177.9h0M143.0 178.7h0M44.4 182.6h0M64.7 182.3h0M88.9 180.6h0M90.4 181.9h0M103.1 179.9h0M122.6 180.7h0M135.4 181.0h0M12.8 185.9h0M19.2 184.9h0M26.3 183.7h0M31.4 185.5h0M39.3 185.7h0M43.0 185.4h0M54.0 185.4h0M59.1 185.8h0M67.2 184.5h0M70.1 186.6h0M77.7 185.9h0M93.5 185.2h0M96.4 184.9h0M101.6 185.9h0M109.1 185.1h0M124.5 184.6h0M128.4 185.7h0M132.5 185.5h0M136.0 185.4h0M140.8 185.4h0M143.8 184.8h0M6.2 187.9h0M14.7 187.8h0M18.3 188.2h0M44.7 187.3h0M52.3 189.0h0M59.3 189.0h0M72.3 188.3h0M76.4 187.7h0M80.2 189.6h0M83.2 189.6h0M96.2 187.9h0M108.2 187.2h0M110.4 189.0h0M115.2 188.9h0M125.3 190.1h0M130.7 188.0h0M138.3 188.5h0M12.5 191.3h0M22.9 192.1h0M38.3 192.0h0M59.4 192.1h0M63.0 192.5h0M79.1 192.7h0M82.0 192.4h0M89.4 190.9h0M102.1 191.8h0M112.3 191.8h0M124.8 191.8h0M141.6 192.4h0M19.0 195.6h0M21.2 196.6h0M30.5 195.9h0M41.2 195.3h0M44.6 194.6h0M55.9 194.9h0M65.1 194.8h0M75.1 195.5h0M112.3 195.3h0M120.1 195.7h0M122.8 194.8h0M125.9 195.9h0M130.5 195.3h0M139.2 193.9h0M144.0 194.9h0M8.4 197.2h0" stroke-width="2.0"/><path d="M5.4 119.6h0M15.0 121.7h0M18.2 120.4h0M36.2 121.4h0M42.0 122.0h0M49.1 120.4h0M53.0 121.3h0M83.4 121.3h0M95.3 121.3h0M107.9 120.2h0M111.3 121.2h0M122.5 120.0h0M130.9 120.8h0M11.3 124.0h0M22.5 125.0h0M35.0 124.6h0M38.5 123.9h0M67.1 125.4h0M69.1 124.7h0M106.1 124.2h0M108.4 123.8h0M116.8 123.9h0M120.0 125.0h0M124.6 124.3h0M18.0 126.8h0M21.2 128.6h0M29.7 127.6h0M37.1 128.3h0M56.7 127.6h0M68.8 127.8h0M96.3 127.1h0M126.2 127.2h0M130.5 127.0h0M133.5 127.3h0M13.2 131.7h0M47.3 132.1h0M55.3 130.7h0M62.6 131.4h0M66.4 130.6h0M74.6 130.5h0M93.2 130.1h0M102.1 129.9h0M139.5 131.8h0M7.5 135.3h0M10.9 134.3h0M18.8 134.0h0M33.5 133.9h0M40.8 134.7h0M64.7 134.3h0M72.2 134.1h0M84.8 134.7h0M119.1 135.0h0M134.5 134.6h0M11.1 138.4h0M27.4 138.8h0M35.3 138.5h0M38.4 136.8h0M59.2 139.1h0M85.3 138.3h0M97.5 137.0h0M114.1 138.8h0M118.7 138.1h0M128.4 137.6h0M15.5 141.0h0M16.7 140.7h0M25.8 140.7h0M36.5 141.1h0M45.4 140.9h0M51.9 140.2h0M63.9 142.2h0M95.6 141.1h0M114.7 141.5h0M134.3 141.2h0M137.6 140.3h0M142.5 140.2h0M26.6 144.5h0M57.5 144.4h0M78.2 144.5h0M85.7 144.3h0M100.9 144.8h0M123.3 143.7h0M144.1 145.4h0M9.0 146.8h0M14.4 148.1h0M25.9 148.9h0M48.9 148.9h0M68.0 147.8h0M71.3 149.2h0M88.9 147.8h0M110.4 149.3h0M124.9 147.7h0M8.1 151.8h0M20.7 151.3h0M28.6 151.6h0M31.7 150.8h0M34.1 151.4h0M87.4 151.9h0M97.0 150.1h0M109.4 150.9h0M112.3 151.0h0M116.5 150.0h0M129.2 151.4h0M144.0 151.8h0M18.1 155.8h0M21.8 154.2h0M28.4 156.1h0M59.1 155.0h0M72.6 155.1h0M76.8 155.3h0M84.1 155.7h0M100.5 153.9h0M107.3 155.6h0M115.7 155.0h0M16.0 157.4h0M23.9 158.7h0M40.0 158.2h0M59.7 157.6h0M62.8 157.4h0M67.6 157.4h0M69.8 158.9h0M88.9 158.0h0M97.2 156.5h0M128.8 158.1h0M144.6 158.4h0M6.8 161.3h0M20.7 161.1h0M33.8 160.8h0M44.4 160.7h0M58.0 162.8h0M59.1 161.0h0M68.0 161.8h0M73.4 161.0h0M75.6 162.4h0M84.4 162.0h0M110.5 161.4h0M123.5 161.4h0M142.9 162.8h0M13.3 165.5h0M31.1 165.6h0M59.1 165.0h0M87.3 166.3h0M93.9 164.6h0M108.7 165.5h0M125.7 165.7h0M143.7 164.8h0M33.7 168.3h0M42.7 168.6h0M49.2 167.7h0M76.3 168.5h0M80.0 168.3h0M116.2 169.3h0M121.5 167.7h0M20.5 171.7h0M38.1 171.4h0M62.8 171.9h0M67.6 171.6h0M89.1 171.5h0M98.4 172.2h0M104.6 170.9h0M131.8 171.9h0M143.4 170.6h0M5.7 175.1h0M34.5 175.5h0M41.5 176.2h0M44.9 175.0h0M51.8 175.7h0M61.2 174.3h0M69.4 175.7h0M71.4 174.5h0M85.2 176.1h0M91.4 174.4h0M106.3 175.1h0M114.6 174.4h0M123.9 174.4h0M129.8 174.3h0M135.7 174.9h0M35.9 178.0h0M47.4 178.4h0M81.8 178.2h0M85.8 178.3h0M94.6 178.7h0M106.3 178.8h0M132.0 177.3h0M136.4 178.6h0M4.9 181.1h0M8.8 181.0h0M18.1 181.2h0M51.9 180.8h0M57.4 181.6h0M68.4 181.9h0M77.1 182.1h0M84.5 181.9h0M95.7 182.7h0M111.1 181.2h0M119.6 183.2h0M125.8 182.9h0M129.3 181.5h0M137.8 181.6h0M141.1 181.8h0M8.0 185.9h0M22.8 185.1h0M35.2 186.6h0M50.5 184.7h0M74.1 186.1h0M85.2 184.8h0M91.3 185.6h0M106.1 185.6h0M121.9 186.2h0M21.4 188.3h0M49.0 188.7h0M56.3 187.7h0M68.5 188.8h0M91.5 188.8h0M103.3 189.2h0M122.3 188.0h0M134.3 187.9h0M144.4 188.1h0M7.2 192.1h0M20.9 191.5h0M36.1 192.5h0M42.7 191.9h0M47.7 192.2h0M51.0 191.9h0M70.5 191.9h0M86.0 192.6h0M118.1 191.4h0M121.3 191.3h0M132.7 191.4h0M145.0 191.5h0M9.5 195.5h0M32.2 195.6h0M48.1 195.0h0M61.5 195.8h0M68.4 195.4h0M72.0 195.5h0M92.4 195.2h0M95.2 194.6h0M107.5 195.3h0M115.0 195.1h0M134.8 195.4h0M146.1 194.2h0" stroke-width="2.5"/><path d="M24.3 120.9h0M69.0 121.6h0M138.6 120.8h0M9.1 124.1h0M26.6 124.4h0M85.6 123.9h0M89.2 124.7h0M63.2 127.0h0M82.4 127.9h0M122.8 128.4h0M143.0 128.1h0M18.6 130.5h0M82.1 132.1h0M30.7 134.6h0M79.4 135.4h0M108.8 138.2h0M22.3 140.1h0M84.0 140.1h0M16.9 144.2h0M118.0 144.7h0M120.4 143.3h0M6.8 148.9h0M107.0 149.1h0M126.2 149.5h0M73.8 150.4h0M52.9 154.1h0M95.5 154.8h0M103.1 155.8h0M12.0 157.9h0M54.4 158.0h0M74.0 158.0h0M26.7 161.3h0M37.8 162.4h0M103.7 162.0h0M113.6 161.5h0M133.3 162.8h0M27.5 164.9h0M47.9 163.6h0M78.7 165.1h0M82.2 163.7h0M101.3 163.7h0M129.2 165.2h0M20.9 168.6h0M68.2 168.6h0M106.9 167.5h0M138.5 169.3h0M11.8 171.6h0M135.9 172.0h0M88.4 174.9h0M95.3 174.8h0M16.5 178.7h0M42.7 178.5h0M62.9 178.8h0M101.4 178.3h0M129.1 179.0h0M26.0 180.0h0M49.0 183.2h0M81.0 182.1h0M100.2 179.9h0M107.3 181.6h0M145.2 181.2h0M27.1 192.9h0M54.9 192.0h0M65.9 190.7h0M75.5 191.3h0M129.5 192.2h0M135.3 193.2h0M11.7 194.9h0M52.2 195.1h0" stroke-width="3.0"/><path d="M56.9 120.0h0M53.4 137.7h0M62.7 143.8h0M82.2 144.4h0M33.4 149.3h0M90.6 161.7h0M105.0 195.5h0" stroke-width="3.5"/></g></g></g><rect x="6" y="195.5" width="139" height="21.0" fill="#000"/><g clip-path="url(#c11)"><rect x="148" y="121" width="139" height="74.5" fill="#888" filter="url(#ag1)"/><path d="M285.7 131.4h0M222.6 163.5h0M215.9 169.6h0M230.3 142.2h0M243.1 126.9h0M220.2 189.9h0M169.0 142.8h0M223.4 126.5h0M271.6 173.8h0M281.1 148.5h0M218.4 182.8h0M225.7 164.1h0M169.5 189.6h0M148.4 194.7h0M256.9 172.8h0M183.3 151.0h0M160.5 179.5h0M177.5 165.5h0M180.4 122.6h0M207.5 194.2h0M259.8 184.8h0M155.7 193.6h0M174.1 170.5h0M218.4 159.0h0M192.9 125.0h0M227.5 126.5h0M276.4 150.7h0M255.8 156.8h0M221.3 123.4h0M148.5 150.6h0M232.7 122.2h0M151.6 147.8h0M180.2 137.0h0M227.5 179.5h0M215.8 163.5h0M199.2 170.0h0M252.0 165.4h0M176.5 160.0h0M224.0 154.1h0M172.3 158.9h0M211.7 136.2h0M249.8 169.9h0M200.5 141.9h0M232.3 127.4h0M258.3 185.6h0M212.6 159.1h0M152.3 182.3h0M186.4 181.3h0M234.4 181.5h0M178.2 126.9h0M230.9 192.9h0M181.9 184.6h0M201.4 133.6h0M153.7 133.2h0M281.1 158.4h0M154.6 172.8h0M275.8 146.1h0M179.6 150.8h0M200.1 146.4h0M177.1 152.0h0M221.6 170.6h0M283.1 153.9h0M200.9 123.5h0M152.9 156.3h0M198.7 194.3h0M185.7 138.2h0M197.1 128.8h0M181.0 185.4h0M154.8 134.8h0M210.8 145.4h0M253.0 155.8h0M208.5 131.2h0M163.7 135.2h0M281.4 166.5h0M160.1 161.2h0M258.0 194.1h0M264.2 179.7h0M236.3 173.2h0M156.9 149.5h0M269.7 176.4h0M212.5 186.6h0M183.8 136.7h0M202.9 149.8h0M155.9 145.3h0M246.9 124.0h0M254.4 180.4h0M269.6 160.7h0M241.8 138.9h0M167.5 125.8h0M227.0 126.9h0M196.1 121.1h0M225.2 172.2h0M237.3 133.1h0M176.8 168.4h0M184.9 151.7h0M176.2 138.7h0M199.8 183.1h0M196.3 144.0h0M277.6 170.4h0M156.7 153.6h0M194.6 130.3h0M200.7 184.2h0M209.6 152.3h0M182.2 121.9h0M202.9 147.9h0M213.0 126.0h0M283.5 134.6h0M161.5 141.2h0M180.8 127.2h0M188.3 128.9h0M252.6 142.6h0M152.0 191.8h0M174.5 131.6h0M203.9 152.0h0M275.9 126.5h0M235.5 160.0h0M171.9 143.0h0M218.4 161.8h0M212.2 145.8h0M161.5 188.8h0" stroke="#3a3a3a" stroke-width="1.3" stroke-linecap="round" opacity="0.8"/></g><rect x="148" y="195.5" width="139" height="21.0" fill="#000"/><g clip-path="url(#c20)"><rect x="6" y="219.5" width="139" height="74.0" fill="#9c9c9c" filter="url(#ib2)"/><g filter="url(#blur)" stroke="#323232" stroke-linecap="round" fill="none"><g class="p"><path d="M101.0 221.3h0M84.0 229.1h0M39.6 230.8h0M131.1 231.0h0M10.6 234.4h0M95.3 236.8h0M24.8 238.6h0M144.6 242.4h0M49.8 247.5h0M101.0 246.6h0M138.6 246.9h0M105.8 248.3h0M70.5 252.1h0M74.0 252.6h0M44.3 254.4h0M60.5 254.6h0M11.4 257.6h0M82.0 263.0h0M111.5 261.2h0M28.8 265.2h0M137.1 266.7h0M52.7 271.2h0M18.7 275.8h0M97.3 277.1h0M19.3 278.7h0M109.0 285.5h0M125.2 287.9h0M38.4 290.8h0M104.2 293.8h0M106.5 294.8h0" stroke-width="1.0"/><path d="M12.9 220.2h0M17.7 220.7h0M19.6 219.1h0M23.9 219.2h0M27.2 220.4h0M35.8 219.3h0M44.1 219.9h0M56.4 220.1h0M60.5 219.6h0M64.3 218.8h0M67.3 219.1h0M102.8 218.8h0M115.0 219.7h0M130.7 219.4h0M137.9 220.7h0M140.2 219.3h0M143.6 220.1h0M8.0 222.5h0M10.9 222.6h0M19.1 222.9h0M37.8 222.8h0M59.8 223.5h0M62.9 220.9h0M70.6 221.9h0M80.1 221.0h0M83.6 222.9h0M87.4 223.0h0M91.0 222.3h0M106.7 222.9h0M115.1 223.0h0M118.0 222.7h0M135.3 221.8h0M141.7 222.4h0M144.8 221.8h0M30.2 224.9h0M50.6 225.1h0M57.4 224.7h0M61.0 225.1h0M75.7 224.8h0M81.0 224.9h0M88.8 225.5h0M91.8 226.0h0M96.5 225.3h0M99.5 225.8h0M102.1 224.8h0M113.0 225.1h0M116.0 225.6h0M126.4 224.9h0M7.5 229.3h0M11.5 228.7h0M14.5 228.5h0M17.2 230.0h0M25.4 228.9h0M38.1 227.9h0M42.4 227.0h0M46.3 229.2h0M56.2 229.0h0M59.0 229.9h0M66.2 228.5h0M69.9 228.4h0M80.6 228.0h0M101.1 229.2h0M107.4 227.8h0M114.7 228.7h0M119.4 227.9h0M128.1 227.4h0M133.1 228.4h0M145.5 228.3h0M7.5 230.6h0M17.0 230.3h0M23.9 230.5h0M47.0 231.2h0M85.2 230.2h0M100.1 230.7h0M102.5 231.5h0M119.3 231.7h0M127.3 231.5h0M139.4 231.7h0M14.4 233.6h0M29.5 234.8h0M31.7 235.3h0M52.2 234.6h0M77.5 234.2h0M83.7 235.1h0M97.1 234.8h0M121.6 234.4h0M135.6 234.4h0M8.6 237.2h0M13.6 237.0h0M16.7 237.4h0M34.3 237.8h0M40.7 238.2h0M46.8 235.8h0M51.4 237.3h0M61.4 237.5h0M63.6 237.4h0M77.8 238.1h0M82.2 237.9h0M89.1 237.9h0M136.1 236.2h0M18.8 239.1h0M21.0 239.4h0M31.6 241.1h0M34.6 240.5h0M52.4 240.1h0M55.6 240.9h0M66.6 240.0h0M69.6 240.3h0M77.7 240.4h0M87.0 240.6h0M93.8 240.3h0M100.7 241.2h0M107.0 240.1h0M118.8 240.2h0M121.2 241.1h0M128.1 240.1h0M145.3 240.6h0M20.4 242.9h0M23.3 242.7h0M57.2 243.5h0M69.1 242.9h0M70.4 244.1h0M75.1 243.5h0M82.7 244.2h0M103.3 243.2h0M112.2 244.2h0M10.5 247.7h0M14.7 246.1h0M28.4 246.3h0M32.7 247.2h0M38.9 246.8h0M77.2 247.2h0M80.7 247.1h0M83.9 246.1h0M90.8 245.3h0M94.2 246.9h0M104.4 246.5h0M107.4 246.8h0M130.2 246.7h0M13.4 248.9h0M26.6 250.3h0M34.1 249.9h0M37.1 248.8h0M53.9 249.9h0M57.9 249.7h0M64.6 249.5h0M72.4 249.8h0M74.5 250.4h0M97.9 248.5h0M109.7 249.2h0M132.5 249.9h0M140.6 248.8h0M8.1 251.8h0M23.3 252.0h0M25.5 254.0h0M46.3 252.4h0M59.7 252.1h0M62.7 252.5h0M66.1 252.0h0M87.1 252.2h0M93.0 252.8h0M111.2 251.3h0M116.8 252.5h0M145.1 252.2h0M9.7 255.3h0M26.9 255.5h0M37.1 255.4h0M40.5 254.6h0M47.4 256.3h0M58.8 255.4h0M71.6 256.6h0M75.2 256.0h0M108.9 255.3h0M111.7 255.3h0M126.8 256.7h0M138.0 255.5h0M141.3 255.8h0M143.0 254.8h0M146.9 254.6h0M7.8 258.6h0M14.6 257.9h0M25.1 258.1h0M28.0 258.0h0M37.2 257.6h0M46.2 257.8h0M62.7 258.8h0M66.4 258.9h0M83.5 258.3h0M108.5 258.0h0M113.9 258.8h0M145.5 258.3h0M6.4 261.2h0M8.7 260.9h0M22.8 261.7h0M30.0 261.6h0M50.5 261.3h0M71.1 260.5h0M75.1 260.9h0M87.3 261.8h0M88.4 260.7h0M95.7 262.3h0M109.9 260.2h0M116.8 260.5h0M122.9 262.2h0M126.3 260.6h0M132.9 261.6h0M137.1 261.8h0M144.5 260.9h0M7.8 265.0h0M14.1 263.9h0M20.9 265.5h0M25.0 265.0h0M35.5 264.7h0M39.2 264.6h0M42.5 264.8h0M50.2 263.7h0M57.3 263.5h0M59.4 265.0h0M97.1 264.2h0M99.5 264.0h0M104.0 263.8h0M108.3 264.1h0M125.4 263.3h0M128.0 263.6h0M146.2 264.7h0M8.9 266.9h0M20.0 267.2h0M25.3 267.5h0M36.7 267.5h0M39.9 268.1h0M50.6 267.7h0M91.5 267.1h0M130.0 266.6h0M18.5 270.1h0M25.3 269.4h0M39.7 270.0h0M55.3 270.3h0M66.5 271.2h0M69.3 270.3h0M83.9 270.9h0M112.1 268.9h0M118.1 270.3h0M124.9 270.3h0M135.2 269.8h0M142.6 270.7h0M23.0 272.7h0M30.6 274.5h0M39.8 273.5h0M82.8 273.9h0M84.4 273.8h0M92.1 273.1h0M113.6 273.1h0M116.3 273.0h0M140.1 272.2h0M7.7 275.7h0M21.4 276.2h0M38.5 276.7h0M45.4 275.7h0M48.8 277.0h0M62.0 276.6h0M65.6 275.1h0M74.0 275.8h0M80.9 274.9h0M83.5 275.8h0M91.3 276.3h0M100.2 277.0h0M107.6 276.0h0M112.3 277.2h0M115.0 276.2h0M118.7 275.7h0M122.3 276.7h0M125.5 277.8h0M141.7 276.0h0M30.9 279.4h0M33.7 278.8h0M43.2 280.1h0M48.4 278.9h0M60.8 279.4h0M67.6 279.1h0M70.9 277.8h0M100.3 278.6h0M106.8 279.2h0M116.8 278.5h0M126.5 279.9h0M130.7 279.8h0M12.1 282.5h0M31.8 281.3h0M42.3 282.8h0M53.5 283.4h0M55.6 281.5h0M76.3 282.4h0M80.2 281.7h0M93.5 281.8h0M96.3 281.6h0M108.4 282.6h0M114.9 281.1h0M125.8 282.4h0M129.2 281.5h0M142.7 282.3h0M145.5 281.5h0M15.8 285.1h0M39.9 285.2h0M63.6 285.0h0M71.6 285.2h0M81.7 285.7h0M102.9 285.5h0M113.2 284.9h0M116.6 285.0h0M127.0 285.4h0M133.4 285.1h0M136.8 284.8h0M145.0 285.3h0M10.6 288.8h0M15.5 288.3h0M21.9 288.4h0M27.1 288.3h0M38.9 288.2h0M42.0 288.7h0M66.1 288.3h0M85.8 288.1h0M105.2 287.8h0M121.0 288.1h0M135.2 289.2h0M9.0 291.7h0M22.4 292.5h0M47.1 292.0h0M57.9 291.3h0M61.0 290.7h0M63.8 291.7h0M70.6 291.0h0M85.8 291.7h0M88.6 290.8h0M108.0 289.8h0M122.2 292.8h0M127.8 291.4h0M130.4 291.7h0M136.7 290.8h0M9.2 294.1h0M15.7 294.5h0M59.3 293.9h0M62.5 295.4h0M68.4 294.7h0M75.7 294.6h0M84.7 294.1h0M89.8 295.0h0M93.8 294.2h0M97.0 293.0h0M117.7 294.7h0M125.2 294.0h0M129.3 294.2h0M131.2 294.9h0" stroke-width="1.5"/><path d="M6.4 220.8h0M8.8 219.1h0M30.4 218.6h0M35.1 219.9h0M47.6 219.7h0M49.2 219.7h0M53.8 219.8h0M70.6 220.2h0M75.2 220.6h0M78.4 218.8h0M82.2 220.1h0M85.1 218.1h0M87.8 219.2h0M92.3 219.4h0M94.5 219.5h0M99.9 218.5h0M105.9 220.4h0M108.9 219.5h0M112.9 219.2h0M119.8 219.7h0M122.8 219.2h0M125.8 218.9h0M14.6 222.2h0M24.2 222.7h0M31.4 222.3h0M35.0 222.2h0M45.2 222.6h0M47.9 222.4h0M52.9 223.7h0M56.0 222.4h0M66.5 221.1h0M73.3 222.1h0M76.2 223.0h0M93.9 223.3h0M97.4 223.0h0M103.3 223.5h0M111.3 223.0h0M120.6 223.3h0M124.6 221.8h0M129.1 222.1h0M132.0 222.3h0M139.2 223.3h0M6.0 226.2h0M9.5 225.5h0M16.7 226.4h0M19.5 225.8h0M23.8 225.2h0M26.3 225.3h0M39.4 225.1h0M48.8 225.6h0M54.4 225.1h0M64.9 224.6h0M67.6 225.3h0M72.0 224.2h0M85.0 225.9h0M104.5 225.0h0M109.1 225.6h0M120.2 226.5h0M122.3 225.6h0M133.0 225.5h0M136.8 225.8h0M141.5 225.7h0M143.8 225.2h0M21.2 228.2h0M28.6 228.8h0M32.5 228.6h0M34.6 229.5h0M49.2 228.6h0M52.2 229.0h0M63.7 229.2h0M73.1 229.0h0M76.6 229.7h0M87.5 229.0h0M91.0 227.8h0M93.3 228.3h0M97.5 227.6h0M104.6 228.1h0M112.2 229.4h0M121.5 227.9h0M125.4 228.3h0M134.7 227.9h0M142.7 228.8h0M8.8 230.7h0M11.9 231.6h0M20.4 230.3h0M27.2 230.6h0M30.8 231.4h0M33.5 231.0h0M37.4 231.4h0M43.5 231.9h0M51.4 230.7h0M54.6 230.5h0M60.7 231.2h0M64.9 231.3h0M67.7 231.7h0M71.5 230.8h0M74.0 230.5h0M78.9 230.8h0M83.2 231.7h0M88.8 230.7h0M91.7 231.9h0M95.8 231.7h0M106.6 231.3h0M109.1 231.1h0M112.6 231.0h0M116.8 231.3h0M123.5 230.8h0M134.7 231.0h0M143.9 231.3h0M146.6 231.8h0M8.2 235.5h0M17.2 233.6h0M20.4 233.7h0M24.7 235.1h0M34.6 233.2h0M39.2 235.0h0M41.3 234.5h0M46.1 234.5h0M48.7 234.4h0M55.0 232.8h0M62.9 233.8h0M66.4 234.5h0M69.3 233.9h0M74.0 233.9h0M89.8 235.2h0M93.9 233.3h0M100.5 235.0h0M104.0 234.5h0M111.2 233.1h0M115.5 235.0h0M116.8 233.9h0M124.5 234.2h0M129.7 233.4h0M131.3 235.0h0M138.3 234.2h0M143.4 235.0h0M146.6 234.6h0M5.5 237.2h0M20.8 236.9h0M22.9 237.9h0M26.2 237.0h0M30.3 238.0h0M38.0 237.4h0M44.0 237.4h0M54.2 237.9h0M57.5 237.7h0M67.7 237.5h0M73.2 236.8h0M76.4 236.9h0M84.4 236.9h0M93.1 237.7h0M103.0 236.7h0M113.2 237.8h0M116.0 237.8h0M120.0 237.2h0M123.8 238.1h0M126.0 237.7h0M132.5 236.9h0M140.2 237.2h0M143.5 237.2h0M6.5 239.4h0M11.3 240.5h0M14.6 239.9h0M28.3 240.2h0M38.7 238.8h0M42.1 240.5h0M46.7 240.3h0M49.7 241.1h0M59.8 239.9h0M62.9 241.2h0M73.6 240.8h0M80.0 240.5h0M83.8 239.8h0M90.1 240.3h0M104.6 240.5h0M132.5 239.9h0M135.7 240.8h0M138.3 240.5h0M142.8 241.3h0M6.2 243.1h0M9.9 243.6h0M10.9 243.2h0M16.5 241.2h0M25.8 244.1h0M29.7 242.6h0M33.2 243.1h0M36.7 243.5h0M39.6 242.7h0M47.7 244.0h0M53.9 243.0h0M61.8 243.8h0M64.3 242.3h0M78.3 243.1h0M84.5 243.0h0M89.2 242.1h0M92.7 243.4h0M94.5 244.3h0M98.9 243.0h0M106.3 242.9h0M109.3 242.7h0M116.2 243.4h0M119.2 244.5h0M124.3 244.0h0M126.3 243.7h0M129.8 243.4h0M134.4 243.4h0M136.6 242.7h0M140.7 243.3h0M7.0 246.8h0M17.5 245.9h0M20.5 246.3h0M34.7 245.8h0M42.2 246.4h0M45.2 244.7h0M52.9 246.9h0M55.8 246.7h0M62.9 246.0h0M66.4 246.9h0M72.6 246.7h0M97.8 246.0h0M111.3 245.1h0M113.5 245.2h0M117.6 245.5h0M121.3 247.2h0M125.7 245.8h0M131.6 246.1h0M134.1 246.9h0M143.3 246.5h0M145.2 246.6h0M6.2 250.4h0M9.5 249.5h0M16.7 248.7h0M19.4 250.0h0M23.6 249.3h0M41.4 248.7h0M50.3 249.4h0M69.5 249.5h0M79.2 250.6h0M81.7 249.9h0M85.6 251.3h0M89.8 251.2h0M92.0 251.0h0M96.6 248.6h0M102.6 249.9h0M117.4 250.4h0M119.4 248.8h0M123.5 248.3h0M127.0 250.4h0M137.0 250.1h0M144.9 249.3h0M11.4 252.3h0M14.4 252.6h0M16.8 251.8h0M30.7 253.0h0M35.4 252.3h0M39.5 251.6h0M42.8 251.6h0M48.6 252.1h0M52.7 252.4h0M56.1 252.3h0M77.1 252.6h0M80.7 252.0h0M83.2 252.4h0M90.6 252.1h0M96.5 251.9h0M100.8 252.2h0M103.8 252.3h0M117.0 251.4h0M122.2 252.8h0M125.3 252.5h0M129.0 252.2h0M130.4 251.2h0M140.1 252.3h0M141.7 251.2h0M5.2 255.3h0M12.2 254.8h0M16.0 256.3h0M20.1 256.0h0M24.5 255.1h0M30.4 254.9h0M33.7 255.9h0M50.7 255.2h0M53.5 255.3h0M63.7 254.9h0M67.4 255.6h0M78.0 255.3h0M82.0 255.4h0M85.0 254.7h0M89.2 254.7h0M92.2 255.2h0M96.0 255.6h0M98.9 255.4h0M102.6 254.7h0M106.6 255.3h0M116.3 255.9h0M119.9 255.6h0M123.4 254.8h0M130.8 256.0h0M17.8 258.8h0M21.4 258.2h0M35.2 257.7h0M42.6 258.9h0M48.9 258.8h0M53.2 257.7h0M56.6 257.9h0M59.4 257.9h0M73.1 258.9h0M77.0 257.4h0M79.2 258.5h0M87.8 258.3h0M93.4 257.7h0M96.7 259.1h0M102.1 258.5h0M105.7 259.0h0M112.4 258.0h0M118.1 258.8h0M122.2 258.2h0M128.5 259.1h0M131.8 258.6h0M138.5 258.4h0M141.9 258.3h0M11.4 261.8h0M15.6 261.0h0M20.0 261.1h0M26.4 261.7h0M33.0 261.9h0M35.7 261.4h0M41.0 261.3h0M55.1 261.9h0M56.6 260.0h0M62.5 261.8h0M64.7 260.4h0M67.9 261.1h0M79.2 262.0h0M92.1 262.2h0M99.7 261.2h0M105.9 261.8h0M120.0 262.3h0M130.6 260.6h0M140.2 260.7h0M11.3 264.3h0M31.0 264.2h0M45.2 264.5h0M52.2 265.2h0M63.0 264.3h0M66.3 264.7h0M69.4 264.9h0M73.5 263.7h0M76.3 264.0h0M80.9 264.8h0M84.4 264.5h0M86.3 263.0h0M90.4 263.7h0M111.8 264.8h0M114.8 264.3h0M118.6 264.2h0M122.1 265.7h0M132.8 265.2h0M135.0 264.1h0M138.8 263.5h0M141.7 264.3h0M6.5 267.5h0M13.8 268.2h0M23.9 267.3h0M33.4 267.4h0M43.8 267.6h0M46.9 269.0h0M53.4 268.0h0M58.0 267.3h0M61.1 267.8h0M64.3 267.9h0M68.0 267.1h0M71.4 267.5h0M74.2 266.4h0M78.2 267.7h0M82.4 267.3h0M85.6 268.0h0M89.9 266.5h0M96.2 268.1h0M99.9 267.4h0M102.3 267.5h0M104.8 267.8h0M108.2 267.5h0M116.8 268.4h0M119.2 267.6h0M122.6 266.8h0M133.8 267.8h0M139.8 267.8h0M7.5 270.5h0M9.9 269.6h0M16.0 270.8h0M21.1 271.4h0M27.9 270.5h0M31.6 270.4h0M34.6 269.9h0M45.4 271.2h0M48.7 270.7h0M59.4 269.7h0M62.1 270.6h0M74.7 270.0h0M76.1 269.3h0M88.3 270.2h0M90.9 269.8h0M94.4 269.9h0M98.4 269.4h0M100.0 270.5h0M105.3 270.7h0M108.7 270.6h0M122.2 270.1h0M132.5 271.5h0M138.6 270.6h0M145.1 270.2h0M6.1 274.1h0M8.8 271.9h0M16.7 273.0h0M20.3 273.0h0M26.3 274.1h0M33.2 273.1h0M37.6 272.4h0M43.4 273.8h0M50.5 272.6h0M55.5 273.0h0M56.8 273.0h0M60.2 274.7h0M64.0 273.1h0M68.2 273.8h0M70.7 273.4h0M78.7 273.0h0M95.5 273.0h0M99.3 273.2h0M103.0 274.0h0M106.6 272.9h0M108.4 273.2h0M126.6 273.1h0M134.5 272.2h0M137.7 274.7h0M145.2 272.3h0M10.7 275.4h0M15.0 275.2h0M25.3 276.2h0M27.9 276.4h0M32.2 277.0h0M35.2 275.6h0M42.6 275.9h0M52.3 276.1h0M55.3 276.5h0M60.6 276.1h0M69.9 275.7h0M77.2 277.6h0M87.3 276.0h0M93.2 276.0h0M103.5 276.0h0M128.3 276.7h0M132.3 275.5h0M135.1 275.7h0M138.4 277.4h0M145.6 276.5h0M6.1 280.0h0M12.8 280.0h0M15.4 280.5h0M24.3 278.9h0M25.8 279.6h0M40.6 279.6h0M54.2 278.9h0M58.6 278.7h0M64.2 279.2h0M77.9 279.6h0M90.0 278.4h0M91.6 279.2h0M95.8 279.0h0M103.0 279.6h0M108.6 279.6h0M112.4 279.2h0M119.9 279.3h0M123.3 278.9h0M134.2 279.3h0M138.2 279.1h0M139.6 279.8h0M7.5 283.0h0M14.5 282.2h0M17.7 282.7h0M21.5 283.0h0M25.4 282.1h0M27.7 282.0h0M35.3 281.8h0M37.6 282.0h0M45.4 281.9h0M48.3 282.3h0M59.6 283.3h0M63.1 282.6h0M66.4 281.9h0M69.2 281.8h0M72.7 281.4h0M83.4 283.1h0M86.7 282.4h0M90.0 282.2h0M100.3 281.6h0M104.2 282.1h0M111.8 281.7h0M118.9 282.4h0M122.2 282.9h0M132.4 281.3h0M135.8 282.0h0M138.5 282.6h0M4.6 285.6h0M9.3 285.0h0M12.1 285.7h0M19.5 284.2h0M24.0 284.5h0M25.7 284.1h0M30.7 284.6h0M36.8 285.2h0M44.4 285.4h0M48.0 284.9h0M50.4 285.1h0M55.1 285.5h0M57.5 284.6h0M61.4 285.6h0M67.6 285.8h0M75.8 285.3h0M77.5 285.7h0M85.7 285.8h0M88.5 285.8h0M92.4 285.9h0M94.7 285.2h0M98.8 286.7h0M104.5 285.6h0M119.8 284.1h0M123.7 285.6h0M130.0 284.1h0M140.7 285.5h0M7.9 288.4h0M18.3 288.1h0M32.5 288.6h0M34.2 289.3h0M45.7 287.7h0M51.5 287.4h0M55.7 288.4h0M63.3 289.3h0M68.9 287.6h0M73.1 288.7h0M76.3 289.2h0M80.3 288.9h0M83.7 289.2h0M89.6 288.7h0M94.3 286.9h0M100.4 287.5h0M108.1 288.0h0M117.9 287.8h0M129.5 287.1h0M132.5 289.8h0M139.1 287.5h0M141.7 289.1h0M146.1 288.1h0M13.5 291.9h0M16.4 290.7h0M19.8 291.1h0M25.1 291.4h0M28.7 290.6h0M33.5 291.4h0M43.7 291.5h0M51.2 290.6h0M54.3 290.8h0M68.9 291.8h0M74.6 292.7h0M79.2 292.2h0M91.6 291.4h0M96.5 290.5h0M98.9 290.9h0M102.4 291.7h0M105.6 291.3h0M112.7 290.8h0M116.8 291.5h0M120.6 290.9h0M133.7 291.0h0M140.6 291.4h0M7.6 293.9h0M18.5 294.3h0M21.5 295.0h0M24.9 294.2h0M28.2 294.6h0M31.0 293.7h0M35.8 294.2h0M38.4 293.8h0M41.6 294.0h0M45.4 295.0h0M48.4 294.5h0M52.9 294.4h0M56.6 293.5h0M66.7 293.9h0M79.5 293.9h0M87.4 293.8h0M99.6 293.9h0M111.1 294.5h0M115.4 295.0h0M134.9 294.5h0M141.7 293.5h0" stroke-width="2.0"/><path d="M41.0 220.7h0M134.1 219.2h0M21.4 223.6h0M26.8 222.7h0M42.2 223.0h0M13.0 225.9h0M33.2 225.0h0M36.4 224.6h0M43.9 225.6h0M79.2 224.6h0M132.1 227.3h0M138.9 229.3h0M58.2 231.2h0M137.2 232.6h0M59.9 234.6h0M80.1 233.5h0M87.2 234.3h0M107.6 234.4h0M98.8 237.3h0M105.4 238.7h0M109.7 237.1h0M130.3 238.6h0M98.3 239.7h0M112.1 239.8h0M114.5 239.3h0M124.7 241.0h0M43.3 243.3h0M51.5 243.5h0M25.0 246.4h0M60.4 246.0h0M69.6 246.3h0M87.6 246.6h0M30.4 249.1h0M44.6 249.8h0M46.4 250.1h0M60.7 249.2h0M113.6 249.9h0M130.0 249.1h0M28.4 252.3h0M107.7 251.5h0M135.2 251.4h0M134.7 256.2h0M31.1 259.1h0M70.9 258.1h0M91.8 259.0h0M124.6 258.8h0M135.3 258.3h0M44.4 260.1h0M47.7 261.6h0M101.9 260.9h0M18.5 264.2h0M93.5 264.8h0M16.1 266.0h0M30.4 267.8h0M113.9 267.1h0M126.9 267.7h0M143.7 267.8h0M42.8 270.3h0M80.0 269.9h0M114.6 271.8h0M129.0 270.0h0M11.6 273.7h0M47.5 272.8h0M75.1 273.5h0M89.5 273.0h0M118.7 273.1h0M123.7 272.6h0M130.9 272.8h0M10.7 279.0h0M35.9 279.4h0M51.1 278.7h0M75.8 279.7h0M82.3 278.9h0M86.2 277.7h0M143.7 279.8h0M32.9 285.4h0M24.5 288.4h0M49.1 288.6h0M96.4 287.9h0M111.4 288.6h0M114.7 289.0h0M5.0 291.3h0M40.5 292.2h0M81.9 291.0h0M144.8 290.5h0M145.9 292.0h0M72.7 293.2h0M121.7 293.8h0M146.0 293.5h0" stroke-width="2.5"/><path d="M58.7 288.2h0" stroke-width="3.0"/></g></g></g><rect x="6" y="293.5" width="139" height="21.5" fill="#000"/><g clip-path="url(#c21)"><rect x="148" y="219.5" width="139" height="74.0" fill="#888" filter="url(#ag2)"/><path d="M196.1 293.3h0M209.7 257.5h0M261.4 244.4h0M243.6 249.9h0M189.8 278.0h0M209.2 234.3h0M226.3 232.2h0M264.3 234.8h0M177.5 282.6h0M275.1 273.9h0M191.8 289.8h0M256.2 288.0h0M220.9 260.6h0M196.5 238.3h0M225.5 266.8h0M215.5 282.7h0M169.2 281.4h0M210.2 221.5h0M277.0 292.5h0M239.5 252.6h0M164.7 236.8h0M245.5 240.3h0M245.2 288.9h0M216.8 241.9h0M152.1 249.6h0M225.1 229.2h0M187.2 254.0h0M223.4 267.3h0M200.9 254.2h0M204.0 243.4h0M278.3 263.6h0M279.2 248.0h0M172.0 245.9h0M182.3 243.6h0M284.8 253.1h0M225.3 253.1h0M243.6 291.0h0M229.8 233.6h0M165.0 282.3h0M224.8 276.9h0M154.0 278.9h0M148.1 288.5h0M150.7 234.8h0M218.0 292.2h0M160.4 245.8h0M152.9 293.5h0M161.4 240.9h0M220.9 239.7h0M235.9 254.8h0M178.0 263.1h0M275.2 225.4h0M173.3 236.2h0M208.2 268.4h0M236.9 267.9h0M234.8 261.9h0M176.5 260.6h0M175.4 273.9h0M183.7 286.4h0M226.7 237.9h0M264.6 259.0h0M172.1 253.0h0M215.8 285.9h0M178.7 248.7h0M256.4 280.5h0M203.0 286.6h0M169.5 269.3h0M241.5 285.8h0M223.0 277.7h0M240.3 276.1h0M178.3 231.3h0M184.8 227.2h0M192.7 236.4h0M265.3 252.9h0M188.3 249.4h0M243.8 230.1h0M235.4 261.4h0M241.3 261.1h0M209.5 228.1h0M253.0 233.7h0M214.9 279.4h0M184.0 235.1h0M217.4 268.7h0M243.4 278.1h0M164.6 235.0h0M249.5 224.2h0M218.8 283.7h0M273.7 281.7h0M220.8 231.2h0M270.6 291.6h0M172.8 280.1h0M166.6 273.7h0M216.6 242.1h0M148.5 244.3h0M216.9 243.3h0M162.7 236.3h0M263.7 261.2h0M253.9 278.9h0M210.9 254.9h0M165.9 244.2h0M260.9 275.8h0" stroke="#3a3a3a" stroke-width="1.3" stroke-linecap="round" opacity="0.8"/></g><rect x="148" y="293.5" width="139" height="21.5" fill="#000"/><g clip-path="url(#c30)"><rect x="6" y="318" width="139" height="74" fill="#9a9a9a" filter="url(#ib3)"/><g filter="url(#blur)" stroke="#3c3c3c" stroke-linecap="round" fill="none"><g class="p"><path d="M13.4 317.6h0M37.8 318.3h0M99.2 321.8h0M43.0 328.3h0M87.0 328.2h0M70.7 334.5h0M99.3 334.1h0M29.7 338.6h0M68.8 338.0h0M117.4 341.1h0M130.6 345.4h0M62.3 350.0h0M42.8 356.2h0M126.7 356.1h0M62.8 363.1h0M115.2 369.3h0M137.0 373.4h0M132.1 378.1h0M40.1 381.7h0M14.2 384.5h0M136.9 385.7h0" stroke-width="1.0"/><path d="M9.1 318.8h0M18.5 316.9h0M30.0 317.9h0M57.2 318.8h0M61.3 318.1h0M72.0 318.2h0M92.6 318.7h0M13.1 322.3h0M27.0 321.2h0M51.7 320.6h0M75.0 322.4h0M87.0 321.1h0M103.0 321.1h0M126.7 321.4h0M5.0 324.8h0M14.3 324.7h0M22.5 323.6h0M65.5 323.9h0M103.9 322.8h0M132.2 324.7h0M62.5 328.8h0M83.4 329.3h0M94.0 329.9h0M114.1 327.2h0M118.5 328.1h0M134.4 327.6h0M145.0 327.4h0M22.0 332.6h0M25.8 332.3h0M48.8 332.3h0M52.8 331.7h0M82.2 330.5h0M88.3 332.3h0M109.4 332.5h0M125.9 332.2h0M132.6 331.5h0M23.2 334.5h0M28.3 335.8h0M48.4 336.4h0M60.2 332.9h0M75.0 335.5h0M87.2 334.9h0M90.5 334.4h0M27.1 339.3h0M41.3 337.7h0M94.8 339.2h0M32.8 341.1h0M55.2 341.8h0M66.7 341.2h0M95.3 343.0h0M108.4 345.0h0M117.1 346.0h0M140.6 345.8h0M40.6 348.9h0M70.1 348.9h0M96.0 348.7h0M118.6 348.6h0M138.1 349.2h0M26.3 353.4h0M56.4 350.8h0M100.5 353.2h0M108.8 352.2h0M112.6 351.9h0M120.0 352.2h0M139.6 352.8h0M22.7 355.2h0M31.0 355.0h0M79.0 356.5h0M99.4 355.8h0M103.2 355.9h0M123.2 356.2h0M30.5 358.6h0M41.6 358.3h0M49.7 358.5h0M76.7 357.6h0M85.0 358.6h0M92.9 358.3h0M101.5 359.2h0M133.0 358.7h0M144.0 359.8h0M24.5 363.1h0M26.6 362.5h0M35.7 363.6h0M48.6 363.1h0M56.2 364.0h0M109.9 363.5h0M22.5 366.3h0M99.9 364.6h0M99.1 370.2h0M102.6 368.4h0M60.6 374.0h0M85.3 372.8h0M120.8 373.9h0M23.9 376.7h0M56.2 376.5h0M58.6 375.1h0M75.8 375.2h0M94.6 376.0h0M114.6 375.9h0M119.6 376.0h0M126.6 375.5h0M132.8 376.6h0M17.8 380.0h0M29.2 378.5h0M48.4 379.9h0M61.1 379.6h0M65.4 379.4h0M77.5 380.0h0M81.6 378.7h0M116.1 380.5h0M135.4 379.3h0M27.3 382.5h0M54.6 382.9h0M78.9 382.5h0M33.0 386.5h0M72.0 386.3h0M81.5 385.5h0M119.8 386.0h0M90.4 389.6h0M126.0 389.4h0M42.0 393.1h0M49.6 393.3h0M65.8 393.6h0M72.9 393.2h0M120.0 393.6h0M126.0 392.7h0" stroke-width="1.5"/><path d="M21.4 318.5h0M27.2 318.0h0M49.4 317.5h0M85.7 317.5h0M90.4 317.9h0M104.6 317.7h0M110.0 317.8h0M128.1 318.0h0M131.9 318.6h0M144.1 317.8h0M43.6 321.2h0M54.5 322.8h0M59.9 320.2h0M72.4 321.7h0M83.4 320.8h0M90.4 321.3h0M94.9 321.2h0M114.2 322.8h0M119.7 321.2h0M122.0 320.7h0M143.1 321.8h0M10.6 324.2h0M27.4 325.3h0M36.7 324.8h0M44.9 325.0h0M50.6 324.0h0M88.6 326.1h0M100.9 325.2h0M108.3 323.7h0M123.1 325.0h0M128.0 324.9h0M139.4 325.0h0M8.7 329.5h0M19.4 327.9h0M26.4 328.6h0M36.2 327.3h0M39.3 329.3h0M71.8 328.0h0M75.9 328.2h0M90.9 328.7h0M110.7 328.8h0M127.1 328.9h0M6.1 331.8h0M10.7 331.0h0M16.1 331.9h0M37.0 331.2h0M45.7 331.4h0M69.8 333.0h0M73.4 332.0h0M76.8 331.4h0M113.2 331.8h0M136.5 332.3h0M139.9 331.2h0M144.4 332.3h0M8.0 334.2h0M17.0 335.5h0M19.3 336.3h0M32.9 335.8h0M34.6 334.8h0M45.3 334.6h0M107.4 335.6h0M133.4 337.1h0M15.1 339.0h0M18.2 338.6h0M22.3 338.8h0M50.5 338.5h0M100.9 337.8h0M109.0 337.8h0M115.9 339.3h0M120.0 337.8h0M124.8 338.8h0M128.6 337.8h0M132.8 338.6h0M135.7 338.7h0M138.9 337.8h0M10.9 342.9h0M15.8 340.3h0M47.2 342.9h0M79.7 341.4h0M106.7 343.4h0M113.9 341.7h0M123.0 341.1h0M127.5 342.2h0M133.6 342.4h0M137.9 341.1h0M141.5 341.8h0M22.1 345.3h0M29.6 345.7h0M40.9 345.8h0M49.5 345.2h0M65.0 345.8h0M69.1 345.1h0M73.9 344.5h0M77.1 345.8h0M80.3 344.9h0M93.3 345.3h0M98.2 345.8h0M101.7 344.9h0M105.0 345.4h0M112.9 346.2h0M144.8 345.8h0M17.7 348.0h0M23.5 348.5h0M28.5 347.9h0M54.8 349.7h0M58.3 347.0h0M82.5 347.2h0M115.1 349.5h0M130.0 349.2h0M134.8 347.9h0M146.4 349.0h0M10.2 352.1h0M30.0 352.4h0M37.0 352.4h0M42.2 352.5h0M49.8 352.3h0M53.4 352.3h0M66.3 352.4h0M69.2 352.9h0M77.6 352.6h0M89.7 352.8h0M96.6 353.6h0M115.8 352.8h0M128.4 352.9h0M136.1 352.3h0M8.6 355.5h0M12.3 355.0h0M18.7 355.7h0M55.2 356.7h0M67.3 355.1h0M71.8 355.1h0M75.5 356.1h0M91.4 354.7h0M5.5 359.8h0M9.9 359.5h0M21.5 359.2h0M34.3 359.1h0M46.7 358.7h0M73.4 359.1h0M98.0 359.4h0M120.5 358.6h0M7.4 363.0h0M31.4 362.5h0M39.6 362.0h0M42.7 362.7h0M51.8 362.3h0M70.3 361.5h0M74.8 362.1h0M80.9 363.1h0M94.2 361.3h0M99.0 362.3h0M102.1 363.5h0M131.5 362.5h0M9.9 364.6h0M15.4 365.9h0M17.3 366.1h0M25.3 365.8h0M29.6 366.1h0M32.9 366.0h0M41.6 365.3h0M45.0 365.4h0M49.8 365.7h0M54.1 366.0h0M77.2 366.0h0M85.6 365.6h0M105.7 366.0h0M108.5 366.6h0M112.9 365.9h0M120.5 365.0h0M124.8 367.7h0M141.0 365.9h0M8.2 368.7h0M11.2 368.4h0M26.4 370.1h0M35.0 369.1h0M43.4 368.7h0M47.0 368.5h0M58.5 370.3h0M74.1 368.6h0M86.4 368.0h0M95.3 369.0h0M107.1 369.5h0M110.6 370.1h0M119.1 370.5h0M138.9 368.9h0M146.0 370.5h0M10.5 372.3h0M14.4 372.5h0M17.0 372.5h0M21.8 372.8h0M33.5 372.4h0M57.2 373.2h0M68.6 373.0h0M93.1 372.5h0M105.8 372.2h0M107.4 372.3h0M113.8 372.9h0M132.3 372.0h0M8.1 376.7h0M12.0 376.4h0M15.5 376.1h0M31.3 376.5h0M36.2 375.8h0M39.2 375.5h0M42.9 376.0h0M47.2 375.7h0M52.2 376.7h0M64.1 375.8h0M68.1 375.4h0M79.7 376.3h0M111.2 377.9h0M146.8 376.0h0M10.6 380.4h0M14.1 378.5h0M33.3 378.7h0M52.4 379.0h0M57.5 378.8h0M89.6 378.6h0M92.3 379.8h0M99.5 379.6h0M104.9 379.2h0M121.3 379.5h0M123.7 380.5h0M144.8 379.8h0M15.3 383.5h0M29.7 383.2h0M59.9 383.0h0M86.8 384.1h0M95.6 383.7h0M99.0 383.2h0M106.1 382.6h0M114.6 381.9h0M117.3 383.0h0M127.0 384.0h0M134.1 382.7h0M142.4 383.1h0M10.4 385.7h0M53.2 387.1h0M61.2 385.3h0M70.7 385.6h0M88.5 386.0h0M92.4 386.6h0M123.8 386.6h0M15.1 390.0h0M19.8 389.8h0M24.1 389.6h0M26.7 390.1h0M31.6 390.4h0M39.3 390.7h0M43.2 389.4h0M67.1 389.7h0M78.6 389.0h0M87.7 389.6h0M94.7 389.1h0M102.8 389.6h0M114.3 389.2h0M130.0 389.4h0M138.6 391.4h0M146.4 389.4h0M6.2 393.2h0M13.9 393.6h0M22.2 393.8h0M32.8 393.5h0M46.4 392.9h0M53.2 393.4h0M77.1 392.8h0M87.8 393.3h0M95.8 392.4h0M102.0 393.6h0M111.1 392.8h0M132.3 392.0h0M137.5 391.7h0" stroke-width="2.0"/><path d="M6.8 317.1h0M46.6 318.1h0M53.1 318.2h0M69.2 318.4h0M77.3 318.5h0M79.6 319.0h0M101.6 318.1h0M112.9 319.1h0M115.8 318.0h0M119.6 317.5h0M124.2 319.2h0M135.0 317.0h0M8.1 322.6h0M16.0 321.4h0M20.7 322.5h0M24.7 321.0h0M32.6 321.2h0M34.7 321.6h0M39.7 321.6h0M48.3 321.5h0M107.3 321.6h0M110.3 322.7h0M130.6 320.3h0M30.4 325.1h0M33.4 326.0h0M41.8 325.0h0M53.0 324.1h0M60.9 325.2h0M74.3 324.4h0M84.3 324.8h0M92.8 324.9h0M96.2 324.6h0M113.2 324.4h0M117.0 324.8h0M136.5 324.0h0M12.7 329.5h0M23.9 328.6h0M30.6 327.9h0M47.6 329.0h0M50.1 330.0h0M55.3 328.2h0M59.2 328.2h0M67.5 329.0h0M78.7 327.7h0M99.9 328.5h0M121.4 327.7h0M137.5 328.0h0M141.7 328.8h0M13.9 332.2h0M30.6 332.1h0M33.1 331.9h0M41.7 331.9h0M57.6 332.6h0M61.8 332.0h0M65.2 330.9h0M84.0 331.9h0M94.0 331.8h0M95.9 332.3h0M100.4 330.6h0M105.3 331.5h0M120.5 332.0h0M11.8 335.9h0M40.1 334.8h0M51.0 334.0h0M55.5 334.6h0M62.7 335.1h0M67.4 336.4h0M79.7 334.2h0M82.9 336.4h0M95.8 335.9h0M103.2 335.5h0M115.2 335.3h0M121.2 334.5h0M126.0 334.0h0M130.9 335.4h0M137.9 335.7h0M142.4 335.4h0M146.6 334.6h0M5.4 339.0h0M10.3 337.5h0M32.9 339.4h0M38.0 338.8h0M54.5 339.4h0M60.1 338.3h0M65.4 339.8h0M74.1 338.7h0M76.4 337.9h0M85.4 338.9h0M88.7 339.2h0M105.7 339.3h0M112.7 338.1h0M8.2 341.6h0M19.4 342.5h0M35.4 341.5h0M39.9 342.5h0M43.9 342.4h0M50.4 340.7h0M59.6 342.8h0M62.7 342.0h0M72.6 343.0h0M83.1 342.6h0M90.4 342.1h0M103.5 342.5h0M111.5 341.8h0M130.9 342.0h0M145.5 342.7h0M11.0 345.0h0M18.3 345.7h0M26.8 345.6h0M36.4 346.4h0M45.8 345.3h0M53.9 346.0h0M57.2 345.5h0M61.6 345.5h0M89.5 345.6h0M121.3 346.0h0M124.1 345.9h0M136.1 345.0h0M31.5 348.3h0M36.7 348.4h0M67.9 348.6h0M75.6 349.8h0M79.1 349.3h0M92.0 348.3h0M103.7 349.2h0M106.9 348.6h0M122.1 350.5h0M127.0 349.0h0M142.5 349.1h0M6.2 353.4h0M33.7 351.0h0M62.0 351.7h0M73.6 353.7h0M80.2 352.9h0M105.4 352.7h0M131.9 351.8h0M144.0 353.1h0M13.4 356.6h0M27.0 355.2h0M40.1 354.6h0M48.3 354.4h0M82.4 356.7h0M88.3 356.0h0M95.4 356.2h0M107.4 355.9h0M117.1 355.8h0M130.8 355.4h0M134.5 355.6h0M138.7 356.4h0M141.8 356.9h0M145.2 356.1h0M13.6 360.1h0M18.3 358.9h0M52.9 359.3h0M62.1 358.8h0M68.9 359.4h0M80.8 359.6h0M87.9 359.1h0M108.2 359.6h0M112.9 359.1h0M116.5 359.2h0M124.3 358.9h0M136.2 358.9h0M139.6 358.4h0M12.4 362.0h0M16.2 363.1h0M19.5 362.2h0M58.6 361.9h0M82.5 362.5h0M88.1 363.4h0M90.6 363.2h0M106.0 361.7h0M113.9 361.2h0M117.4 361.4h0M127.1 361.1h0M134.2 361.9h0M139.1 362.7h0M145.5 362.1h0M57.4 365.7h0M60.7 365.3h0M64.3 365.1h0M70.6 365.8h0M81.7 366.2h0M88.9 365.9h0M117.2 365.9h0M129.2 365.4h0M133.2 366.0h0M136.1 366.2h0M144.1 365.9h0M16.1 369.1h0M20.2 369.7h0M24.0 368.0h0M31.3 368.7h0M39.6 368.5h0M49.7 369.1h0M54.7 369.3h0M63.6 369.3h0M66.9 369.2h0M72.0 369.5h0M83.0 369.7h0M90.7 370.1h0M122.3 368.7h0M126.5 370.1h0M130.4 369.1h0M134.1 369.1h0M143.8 368.3h0M6.7 373.4h0M26.2 372.8h0M29.7 372.3h0M35.8 373.7h0M42.5 372.7h0M49.9 373.8h0M65.7 373.1h0M77.0 372.7h0M88.7 372.9h0M96.1 372.1h0M100.6 373.1h0M117.7 374.3h0M144.8 373.1h0M27.6 376.1h0M71.6 376.3h0M83.0 376.4h0M98.5 375.6h0M103.7 376.3h0M106.1 377.6h0M130.9 377.1h0M138.6 376.5h0M141.6 375.6h0M22.3 380.4h0M26.2 380.3h0M37.4 378.7h0M40.3 378.7h0M45.3 378.3h0M73.9 380.1h0M84.4 379.6h0M98.9 380.5h0M112.5 379.9h0M8.0 382.4h0M11.2 384.2h0M35.8 384.1h0M44.1 383.1h0M68.3 381.6h0M71.9 383.7h0M102.5 383.7h0M109.8 383.4h0M138.5 382.2h0M18.1 386.2h0M21.8 386.2h0M26.5 385.9h0M29.4 385.9h0M37.9 386.5h0M41.5 385.6h0M48.6 386.1h0M57.1 385.5h0M66.0 386.6h0M77.1 387.3h0M96.3 386.3h0M100.0 386.3h0M106.5 386.0h0M112.1 385.1h0M116.9 385.7h0M128.7 386.5h0M131.7 386.1h0M140.5 386.5h0M142.9 386.3h0M7.1 391.1h0M10.9 391.7h0M35.7 389.9h0M50.7 387.9h0M59.9 389.3h0M62.9 390.9h0M72.3 388.7h0M83.5 388.6h0M100.1 389.9h0M106.7 389.3h0M110.6 388.9h0M118.6 389.4h0M123.9 390.5h0M141.5 389.7h0M10.2 393.5h0M38.4 392.9h0M57.8 392.9h0M68.8 393.3h0M116.9 392.6h0M127.0 393.4h0" stroke-width="2.5"/><path d="M33.3 318.1h0M41.4 318.0h0M65.7 318.5h0M139.5 317.8h0M63.4 321.1h0M67.1 321.4h0M78.4 320.8h0M134.0 321.3h0M17.5 323.9h0M57.6 325.0h0M69.8 324.0h0M81.6 325.5h0M121.1 323.8h0M145.3 324.2h0M18.1 328.2h0M102.4 327.6h0M108.1 327.7h0M130.9 327.4h0M116.8 331.3h0M129.6 331.9h0M111.2 335.6h0M118.0 334.9h0M45.0 339.2h0M57.8 338.3h0M80.8 338.6h0M96.8 338.1h0M144.3 338.4h0M23.5 341.0h0M27.5 342.7h0M75.3 342.8h0M87.0 341.5h0M97.0 342.4h0M4.9 345.3h0M14.1 346.4h0M34.0 345.3h0M85.2 346.5h0M128.1 343.8h0M7.2 349.0h0M11.6 349.0h0M18.3 347.7h0M44.0 349.4h0M47.5 349.6h0M50.1 348.7h0M97.6 349.7h0M13.1 352.3h0M18.2 351.6h0M21.2 351.7h0M45.6 351.8h0M84.0 352.4h0M92.4 352.4h0M34.4 355.5h0M52.3 355.6h0M62.8 355.0h0M114.4 355.5h0M38.0 358.6h0M56.8 358.8h0M105.0 359.3h0M66.5 363.0h0M123.2 361.9h0M143.7 362.6h0M6.3 366.5h0M37.1 365.4h0M92.8 364.7h0M97.4 365.0h0M79.2 369.6h0M45.2 371.6h0M54.5 371.3h0M72.6 372.4h0M81.7 372.2h0M124.8 371.9h0M129.1 373.5h0M141.8 373.6h0M121.8 376.5h0M5.4 377.7h0M69.3 379.3h0M107.1 379.1h0M128.3 379.7h0M19.3 383.6h0M47.8 383.6h0M52.3 382.7h0M62.8 383.0h0M74.2 382.8h0M83.7 384.3h0M90.8 383.9h0M122.6 382.1h0M130.2 384.0h0M46.1 386.6h0M109.3 387.0h0M48.4 390.3h0M55.1 390.4h0M74.5 390.3h0M134.5 389.8h0M92.7 392.7h0M108.3 393.5h0" stroke-width="3.0"/><path d="M96.6 317.4h0M77.2 325.9h0M85.4 348.1h0M111.0 348.1h0M125.0 352.9h0M59.3 356.0h0M25.7 358.7h0M65.2 359.4h0M127.4 359.3h0M72.3 365.5h0M18.7 377.0h0M86.1 376.4h0M90.6 376.6h0M139.5 380.2h0M22.6 382.8h0M6.4 385.0h0M84.8 386.2h0M81.1 392.8h0" stroke-width="3.5"/><path d="M136.9 323.0h0M110.1 355.3h0" stroke-width="4.0"/></g></g></g><rect x="6" y="392" width="139" height="21.5" fill="#000"/><g clip-path="url(#c31)"><rect x="148" y="318" width="139" height="74" fill="#888" filter="url(#ag3)"/><path d="M256.6 318.9h0M195.9 323.9h0M160.2 348.1h0M180.1 332.3h0M192.1 328.0h0M267.8 367.6h0M233.9 340.4h0M209.1 364.5h0M247.3 340.8h0M270.9 366.6h0M174.1 385.2h0M164.7 346.9h0M250.5 390.6h0M265.8 359.7h0M176.5 349.2h0M281.4 351.6h0M215.8 333.3h0M151.7 361.8h0M248.2 324.4h0M243.3 370.9h0M251.4 331.4h0M174.7 326.6h0M247.7 340.3h0M251.5 348.8h0M186.2 334.4h0M204.7 321.3h0M181.3 327.3h0M284.6 338.1h0M149.3 328.6h0M216.8 353.6h0M259.5 333.2h0M276.6 331.1h0M218.6 358.3h0M227.0 330.0h0M243.5 335.0h0M202.6 318.7h0M178.5 366.9h0M252.2 321.1h0M186.4 343.9h0M281.5 349.3h0M280.4 328.8h0M155.2 319.8h0M246.5 348.3h0M233.0 330.0h0M272.2 385.4h0M274.2 350.7h0M276.7 368.6h0M254.7 335.9h0M245.1 370.0h0M219.4 342.6h0M236.1 333.1h0M154.6 386.1h0M184.8 381.7h0M208.1 362.8h0M268.3 322.0h0M188.7 386.1h0M206.1 380.8h0M274.5 387.5h0M148.8 387.7h0M251.8 334.5h0M262.4 336.6h0M158.2 388.3h0M188.1 322.6h0M157.5 391.2h0M214.4 346.5h0M150.6 378.0h0M223.0 339.0h0M279.3 322.8h0M189.8 355.1h0M182.0 374.1h0M275.1 361.7h0M184.1 343.5h0M275.5 339.2h0M159.6 346.3h0M174.8 319.4h0M200.9 363.6h0M207.5 318.4h0M199.3 379.0h0M196.9 363.5h0M259.0 362.2h0M151.2 384.4h0M284.7 370.5h0M191.9 331.2h0M235.3 337.3h0M223.7 340.9h0M209.9 343.0h0M234.1 376.8h0M275.8 351.5h0M162.8 358.2h0M158.8 321.7h0M196.2 335.5h0M167.6 355.3h0M194.0 357.0h0M152.9 385.0h0M208.0 342.5h0M191.1 326.2h0M242.2 391.2h0M220.2 338.4h0M156.5 378.5h0M160.5 356.6h0M203.1 337.1h0M155.2 384.2h0M177.6 353.9h0M282.1 344.4h0M263.0 322.5h0M257.0 326.7h0M251.9 344.7h0M272.1 340.9h0M149.2 334.6h0M228.6 345.1h0M184.3 369.3h0M262.2 379.8h0M197.1 351.3h0M274.6 389.5h0M148.7 352.6h0M251.5 351.7h0M253.8 383.2h0M176.5 321.3h0M182.7 384.8h0M269.7 319.8h0M156.0 360.6h0M279.8 337.1h0M269.4 347.8h0M199.6 346.2h0M180.9 388.4h0M173.8 322.2h0M213.0 365.8h0M268.7 385.6h0M219.3 338.1h0M256.2 372.9h0M236.5 370.7h0M194.7 323.1h0M226.7 369.0h0M246.0 384.4h0M231.2 352.8h0M262.3 376.7h0M258.1 349.3h0M239.9 366.9h0M227.5 369.9h0M253.5 362.6h0" stroke="#3a3a3a" stroke-width="1.3" stroke-linecap="round" opacity="0.8"/></g><rect x="148" y="392" width="139" height="21.5" fill="#000"/></svg>
<svg width="550" height="419" style="position:absolute;left:0;top:0" font-family="'Liberation Serif', serif"><style>text{stroke:#000;stroke-width:0.22px;text-rendering:geometricPrecision}</style><g fill="#b4c7e7" stroke="#9fb5dc" stroke-width="0.5"><rect x="323.00" y="28.29" width="3.29" height="61.11"/><rect x="326.29" y="87.78" width="3.29" height="1.62"/><rect x="329.57" y="87.24" width="3.29" height="2.16"/><rect x="332.86" y="86.70" width="3.29" height="2.70"/><rect x="336.14" y="85.88" width="3.29" height="3.52"/><rect x="339.43" y="84.80" width="3.29" height="4.60"/><rect x="342.72" y="83.72" width="3.29" height="5.68"/><rect x="346.00" y="82.64" width="3.29" height="6.76"/><rect x="349.29" y="81.29" width="3.29" height="8.11"/><rect x="352.58" y="79.94" width="3.29" height="9.46"/><rect x="355.86" y="74.80" width="3.29" height="14.60"/><rect x="359.15" y="75.88" width="3.29" height="13.52"/><rect x="362.43" y="75.88" width="3.29" height="13.52"/><rect x="365.72" y="76.42" width="3.29" height="12.98"/><rect x="369.01" y="78.04" width="3.29" height="11.36"/><rect x="372.29" y="82.37" width="3.29" height="7.03"/><rect x="375.58" y="84.53" width="3.29" height="4.87"/><rect x="378.87" y="86.16" width="3.29" height="3.25"/><rect x="382.15" y="87.24" width="3.29" height="2.16"/><rect x="385.44" y="88.05" width="3.29" height="1.35"/><rect x="388.72" y="88.75" width="3.29" height="0.65"/><rect x="392.01" y="89.08" width="3.29" height="0.32"/><rect x="395.30" y="89.24" width="3.29" height="0.16"/><rect x="398.58" y="89.29" width="3.29" height="0.11"/><rect x="401.87" y="89.29" width="3.29" height="0.11"/><rect x="405.16" y="89.35" width="3.29" height="0.05"/><rect x="408.44" y="89.35" width="3.29" height="0.05"/><rect x="411.73" y="89.35" width="3.29" height="0.05"/><rect x="415.01" y="89.35" width="3.29" height="0.05"/></g><path d="M323.00 24.50H418.30V89.40" fill="none" stroke="#d9d9d9" stroke-width="0.8"/><path d="M323.00 24.50V89.40" fill="none" stroke="#d0d0d0" stroke-width="0.8"/><path d="M323.00 89.40h-2M323.00 67.77h-2M323.00 46.13h-2M323.00 24.50h-2" stroke="#bfbfbf" stroke-width="0.7"/><path d="M321.00 89.40H418.30M323.00 89.40v2M326.29 89.40v2M329.57 89.40v2M332.86 89.40v2M336.14 89.40v2M339.43 89.40v2M342.72 89.40v2M346.00 89.40v2M349.29 89.40v2M352.58 89.40v2M355.86 89.40v2M359.15 89.40v2M362.43 89.40v2M365.72 89.40v2M369.01 89.40v2M372.29 89.40v2M375.58 89.40v2M378.87 89.40v2M382.15 89.40v2M385.44 89.40v2M388.72 89.40v2M392.01 89.40v2M395.30 89.40v2M398.58 89.40v2M401.87 89.40v2M405.16 89.40v2M408.44 89.40v2M411.73 89.40v2M415.01 89.40v2M418.30 89.40v2" stroke="#bfbfbf" stroke-width="0.7" fill="none"/><path d="M327.93 58.03L331.22 88.32C332.31 87.96 335.60 86.92 337.79 86.16C339.98 85.39 342.17 84.58 344.36 83.72C346.55 82.86 349.02 81.87 350.93 81.02C352.85 80.16 354.49 79.26 355.86 78.58C357.23 77.91 358.05 77.37 359.15 76.96C360.24 76.56 361.34 76.28 362.43 76.15C363.53 76.01 364.63 76.01 365.72 76.15C366.82 76.28 367.91 76.33 369.01 76.96C370.10 77.59 371.20 78.85 372.29 79.94C373.39 81.02 374.48 82.50 375.58 83.45C376.67 84.40 377.77 84.98 378.87 85.61C379.96 86.25 381.06 86.79 382.15 87.24C383.25 87.69 384.07 88.02 385.44 88.32C386.81 88.62 388.45 88.86 390.37 89.02C392.28 89.18 394.75 89.23 396.94 89.29C399.13 89.35 400.23 89.38 403.51 89.40C406.80 89.42 414.19 89.40 416.66 89.40C419.12 89.40 418.03 89.40 418.30 89.40" fill="none" stroke="#222" stroke-width="1.2" stroke-linejoin="round"/><text x="318.50" y="92.20" text-anchor="end" font-size="8" fill="#404040" stroke="#404040" style="stroke-width:0.12px">0</text><text x="318.50" y="70.57" text-anchor="end" font-size="8" fill="#404040" stroke="#404040" style="stroke-width:0.12px">4</text><text x="318.50" y="48.93" text-anchor="end" font-size="8" fill="#404040" stroke="#404040" style="stroke-width:0.12px">8</text><text x="318.50" y="27.30" text-anchor="end" font-size="8" fill="#404040" stroke="#404040" style="stroke-width:0.12px">12</text><text x="324.64" y="101.90" text-anchor="middle" font-size="8" fill="#404040" stroke="#404040" style="stroke-width:0.12px">0.2</text><text x="347.65" y="101.90" text-anchor="middle" font-size="8" fill="#404040" stroke="#404040" style="stroke-width:0.12px">0.9</text><text x="370.65" y="101.90" text-anchor="middle" font-size="8" fill="#404040" stroke="#404040" style="stroke-width:0.12px">1.6</text><text x="393.65" y="101.90" text-anchor="middle" font-size="8" fill="#404040" stroke="#404040" style="stroke-width:0.12px">2.3</text><text x="416.66" y="101.90" text-anchor="middle" font-size="8" fill="#404040" stroke="#404040" style="stroke-width:0.12px">3</text><text x="369.15" y="112.80" text-anchor="middle" font-size="7.5" font-weight="bold" fill="#000" stroke="#000" style="stroke-width:0.3px">Diameter / µm</text><text transform="translate(304.80 59.45) rotate(-90)" text-anchor="middle" font-size="7.5" font-weight="bold" fill="#000" stroke="#000" style="stroke-width:0.3px">Counts · 10<tspan dy="-2.5" font-size="5">−4</tspan><tspan dy="2.5"> / mm</tspan><tspan dy="-2.5" font-size="5">−2</tspan></text><text x="325.20" y="22.30" font-size="8.5" font-weight="bold" fill="#000" stroke="#000">1)</text><text x="387.90" y="34.60" text-anchor="middle" font-size="8.5"><tspan font-weight="bold" fill="#000" stroke="#000">IL</tspan><tspan fill="#5b8fd9" stroke="#5b8fd9" style="stroke-width:0">/ITO</tspan></text><text x="388.10" y="43.50" text-anchor="middle" font-size="7.1" letter-spacing="-0.38" fill="#000" stroke="#000" style="stroke-width:0.04px">40 ML; 0.44 Å/s</text><text x="387.90" y="53.70" text-anchor="middle" font-size="8.3" fill="#000" stroke="#000" style="stroke-width:0.05px">273 K</text><g fill="#b4c7e7" stroke="#9fb5dc" stroke-width="0.5"><rect x="323.50" y="183.28" width="3.23" height="8.42"/><rect x="326.73" y="189.25" width="3.23" height="2.44"/><rect x="329.97" y="189.25" width="3.23" height="2.44"/><rect x="333.20" y="189.25" width="3.23" height="2.44"/><rect x="336.44" y="188.98" width="3.23" height="2.72"/><rect x="339.67" y="188.71" width="3.23" height="2.99"/><rect x="342.91" y="188.44" width="3.23" height="3.26"/><rect x="346.14" y="187.90" width="3.23" height="3.80"/><rect x="349.38" y="187.35" width="3.23" height="4.35"/><rect x="352.61" y="186.27" width="3.23" height="5.43"/><rect x="355.84" y="185.18" width="3.23" height="6.52"/><rect x="359.08" y="183.82" width="3.23" height="7.88"/><rect x="362.31" y="181.92" width="3.23" height="9.78"/><rect x="365.55" y="181.38" width="3.23" height="10.32"/><rect x="368.78" y="182.46" width="3.23" height="9.24"/><rect x="372.02" y="183.55" width="3.23" height="8.15"/><rect x="375.25" y="183.82" width="3.23" height="7.88"/><rect x="378.49" y="184.64" width="3.23" height="7.06"/><rect x="381.72" y="186.27" width="3.23" height="5.43"/><rect x="384.96" y="187.35" width="3.23" height="4.35"/><rect x="388.19" y="188.44" width="3.23" height="3.26"/><rect x="391.42" y="189.53" width="3.23" height="2.17"/><rect x="394.66" y="190.61" width="3.23" height="1.09"/><rect x="397.89" y="191.16" width="3.23" height="0.54"/><rect x="401.13" y="191.48" width="3.23" height="0.22"/><rect x="404.36" y="191.59" width="3.23" height="0.11"/><rect x="407.60" y="191.65" width="3.23" height="0.05"/><rect x="410.83" y="191.65" width="3.23" height="0.05"/><rect x="414.07" y="191.65" width="3.23" height="0.05"/></g><path d="M323.50 126.50H417.30V191.70" fill="none" stroke="#d9d9d9" stroke-width="0.8"/><path d="M323.50 126.50V191.70" fill="none" stroke="#d0d0d0" stroke-width="0.8"/><path d="M323.50 191.70h-2M323.50 169.97h-2M323.50 148.23h-2M323.50 126.50h-2" stroke="#bfbfbf" stroke-width="0.7"/><path d="M321.50 191.70H417.30M323.50 191.70v2M326.73 191.70v2M329.97 191.70v2M333.20 191.70v2M336.44 191.70v2M339.67 191.70v2M342.91 191.70v2M346.14 191.70v2M349.38 191.70v2M352.61 191.70v2M355.84 191.70v2M359.08 191.70v2M362.31 191.70v2M365.55 191.70v2M368.78 191.70v2M372.02 191.70v2M375.25 191.70v2M378.49 191.70v2M381.72 191.70v2M384.96 191.70v2M388.19 191.70v2M391.42 191.70v2M394.66 191.70v2M397.89 191.70v2M401.13 191.70v2M404.36 191.70v2M407.60 191.70v2M410.83 191.70v2M414.07 191.70v2M417.30 191.70v2" stroke="#bfbfbf" stroke-width="0.7" fill="none"/><path d="M328.35 186.27L331.26 189.42C331.86 189.39 333.42 189.31 334.82 189.25C336.22 189.20 338.00 189.25 339.67 189.09C341.34 188.93 343.18 188.51 344.85 188.28C346.52 188.04 348.08 188.08 349.70 187.68C351.32 187.28 352.88 186.48 354.55 185.89C356.22 185.29 358.22 184.75 359.73 184.09C361.24 183.43 362.58 182.37 363.61 181.92C364.63 181.47 365.01 181.33 365.87 181.38C366.73 181.42 367.49 181.83 368.78 182.19C370.08 182.55 372.02 183.19 373.63 183.55C375.25 183.91 376.87 183.91 378.49 184.36C380.10 184.82 381.72 185.68 383.34 186.27C384.96 186.86 386.57 187.35 388.19 187.90C389.81 188.44 391.42 189.03 393.04 189.53C394.66 190.02 396.28 190.55 397.89 190.88C399.51 191.22 399.78 191.40 402.74 191.54C405.71 191.67 413.26 191.67 415.68 191.70C418.11 191.73 417.03 191.70 417.30 191.70" fill="none" stroke="#222" stroke-width="1.2" stroke-linejoin="round"/><text x="319.00" y="194.50" text-anchor="end" font-size="8" fill="#404040" stroke="#404040" style="stroke-width:0.12px">0</text><text x="319.00" y="172.77" text-anchor="end" font-size="8" fill="#404040" stroke="#404040" style="stroke-width:0.12px">4</text><text x="319.00" y="151.03" text-anchor="end" font-size="8" fill="#404040" stroke="#404040" style="stroke-width:0.12px">8</text><text x="319.00" y="129.30" text-anchor="end" font-size="8" fill="#404040" stroke="#404040" style="stroke-width:0.12px">12</text><text x="325.12" y="204.20" text-anchor="middle" font-size="8" fill="#404040" stroke="#404040" style="stroke-width:0.12px">0.2</text><text x="347.76" y="204.20" text-anchor="middle" font-size="8" fill="#404040" stroke="#404040" style="stroke-width:0.12px">0.9</text><text x="370.40" y="204.20" text-anchor="middle" font-size="8" fill="#404040" stroke="#404040" style="stroke-width:0.12px">1.6</text><text x="393.04" y="204.20" text-anchor="middle" font-size="8" fill="#404040" stroke="#404040" style="stroke-width:0.12px">2.3</text><text x="415.68" y="204.20" text-anchor="middle" font-size="8" fill="#404040" stroke="#404040" style="stroke-width:0.12px">3</text><text x="368.90" y="215.10" text-anchor="middle" font-size="7.5" font-weight="bold" fill="#000" stroke="#000" style="stroke-width:0.3px">Diameter / µm</text><text transform="translate(305.30 160.20) rotate(-90)" text-anchor="middle" font-size="7.5" font-weight="bold" fill="#000" stroke="#000" style="stroke-width:0.3px">Counts · 10<tspan dy="-2.5" font-size="5">−4</tspan><tspan dy="2.5"> / mm</tspan><tspan dy="-2.5" font-size="5">−2</tspan></text><text x="325.20" y="124.30" font-size="8.5" font-weight="bold" fill="#000" stroke="#000">3)</text><text x="386.90" y="136.60" text-anchor="middle" font-size="8.5"><tspan font-weight="bold" fill="#000" stroke="#000">IL</tspan><tspan fill="#5b8fd9" stroke="#5b8fd9" style="stroke-width:0">/ITO</tspan></text><text x="387.10" y="145.50" text-anchor="middle" font-size="7.1" letter-spacing="-0.38" fill="#000" stroke="#000" style="stroke-width:0.04px">40 ML; 0.39 Å/s</text><text x="386.90" y="155.70" text-anchor="middle" font-size="8.3" fill="#000" stroke="#000" style="stroke-width:0.05px">283 K</text><g fill="#b4c7e7" stroke="#9fb5dc" stroke-width="0.5"><rect x="323.50" y="263.60" width="3.22" height="27.90"/><rect x="326.72" y="288.25" width="3.22" height="3.25"/><rect x="329.93" y="288.79" width="3.22" height="2.71"/><rect x="333.15" y="287.71" width="3.22" height="3.79"/><rect x="336.37" y="286.08" width="3.22" height="5.42"/><rect x="339.59" y="283.65" width="3.22" height="7.85"/><rect x="342.80" y="282.29" width="3.22" height="9.21"/><rect x="346.02" y="280.67" width="3.22" height="10.83"/><rect x="349.24" y="280.94" width="3.22" height="10.56"/><rect x="352.46" y="274.17" width="3.22" height="17.33"/><rect x="355.67" y="274.17" width="3.22" height="17.33"/><rect x="358.89" y="268.75" width="3.22" height="22.75"/><rect x="362.11" y="270.92" width="3.22" height="20.58"/><rect x="365.32" y="278.23" width="3.22" height="13.27"/><rect x="368.54" y="280.67" width="3.22" height="10.83"/><rect x="371.76" y="283.38" width="3.22" height="8.12"/><rect x="374.98" y="286.62" width="3.22" height="4.88"/><rect x="378.19" y="288.25" width="3.22" height="3.25"/><rect x="381.41" y="289.88" width="3.22" height="1.62"/><rect x="384.63" y="290.69" width="3.22" height="0.81"/><rect x="387.84" y="291.07" width="3.22" height="0.43"/><rect x="391.06" y="291.28" width="3.22" height="0.22"/><rect x="394.28" y="291.39" width="3.22" height="0.11"/><rect x="397.50" y="291.45" width="3.22" height="0.05"/><rect x="400.71" y="291.45" width="3.22" height="0.05"/><rect x="403.93" y="291.45" width="3.22" height="0.05"/></g><path d="M323.50 226.50H416.80V291.50" fill="none" stroke="#d9d9d9" stroke-width="0.8"/><path d="M323.50 226.50V291.50" fill="none" stroke="#d0d0d0" stroke-width="0.8"/><path d="M323.50 291.50h-2M323.50 269.83h-2M323.50 248.17h-2M323.50 226.50h-2" stroke="#bfbfbf" stroke-width="0.7"/><path d="M321.50 291.50H416.80M323.50 291.50v2M326.72 291.50v2M329.93 291.50v2M333.15 291.50v2M336.37 291.50v2M339.59 291.50v2M342.80 291.50v2M346.02 291.50v2M349.24 291.50v2M352.46 291.50v2M355.67 291.50v2M358.89 291.50v2M362.11 291.50v2M365.32 291.50v2M368.54 291.50v2M371.76 291.50v2M374.98 291.50v2M378.19 291.50v2M381.41 291.50v2M384.63 291.50v2M387.84 291.50v2M391.06 291.50v2M394.28 291.50v2M397.50 291.50v2M400.71 291.50v2M403.93 291.50v2M407.15 291.50v2M410.37 291.50v2M413.58 291.50v2M416.80 291.50v2" stroke="#bfbfbf" stroke-width="0.7" fill="none"/><path d="M328.33 276.06L331.54 288.25C332.08 288.16 333.69 288.02 334.76 287.71C335.83 287.39 336.91 286.85 337.98 286.35C339.05 285.86 340.12 285.27 341.19 284.73C342.27 284.19 343.34 283.60 344.41 283.10C345.48 282.61 346.56 282.34 347.63 281.75C348.70 281.16 349.77 280.62 350.85 279.58C351.92 278.55 352.99 276.33 354.06 275.52C355.14 274.71 356.21 275.20 357.28 274.71C358.35 274.21 359.64 273.08 360.50 272.54C361.36 272.00 361.62 271.37 362.43 271.46C363.23 271.55 364.31 272.18 365.32 273.08C366.34 273.99 367.47 275.61 368.54 276.88C369.61 278.14 370.69 279.40 371.76 280.67C372.83 281.93 373.90 283.38 374.98 284.46C376.05 285.54 377.12 286.40 378.19 287.17C379.27 287.93 380.34 288.52 381.41 289.06C382.48 289.60 383.29 290.06 384.63 290.42C385.97 290.78 387.58 291.05 389.45 291.23C391.33 291.41 391.60 291.45 395.89 291.50C400.18 291.55 411.71 291.50 415.19 291.50C418.68 291.50 416.53 291.50 416.80 291.50" fill="none" stroke="#222" stroke-width="1.2" stroke-linejoin="round"/><text x="319.00" y="294.30" text-anchor="end" font-size="8" fill="#404040" stroke="#404040" style="stroke-width:0.12px">0</text><text x="319.00" y="272.63" text-anchor="end" font-size="8" fill="#404040" stroke="#404040" style="stroke-width:0.12px">4</text><text x="319.00" y="250.97" text-anchor="end" font-size="8" fill="#404040" stroke="#404040" style="stroke-width:0.12px">8</text><text x="319.00" y="229.30" text-anchor="end" font-size="8" fill="#404040" stroke="#404040" style="stroke-width:0.12px">12</text><text x="325.11" y="304.00" text-anchor="middle" font-size="8" fill="#404040" stroke="#404040" style="stroke-width:0.12px">0.2</text><text x="347.63" y="304.00" text-anchor="middle" font-size="8" fill="#404040" stroke="#404040" style="stroke-width:0.12px">0.9</text><text x="370.15" y="304.00" text-anchor="middle" font-size="8" fill="#404040" stroke="#404040" style="stroke-width:0.12px">1.6</text><text x="392.67" y="304.00" text-anchor="middle" font-size="8" fill="#404040" stroke="#404040" style="stroke-width:0.12px">2.3</text><text x="415.19" y="304.00" text-anchor="middle" font-size="8" fill="#404040" stroke="#404040" style="stroke-width:0.12px">3</text><text x="368.65" y="314.90" text-anchor="middle" font-size="7.5" font-weight="bold" fill="#000" stroke="#000" style="stroke-width:0.3px">Diameter / µm</text><text transform="translate(305.30 260.10) rotate(-90)" text-anchor="middle" font-size="7.5" font-weight="bold" fill="#000" stroke="#000" style="stroke-width:0.3px">Counts · 10<tspan dy="-2.5" font-size="5">−4</tspan><tspan dy="2.5"> / mm</tspan><tspan dy="-2.5" font-size="5">−2</tspan></text><text x="325.20" y="224.30" font-size="8.5" font-weight="bold" fill="#000" stroke="#000">5)</text><text x="386.40" y="236.60" text-anchor="middle" font-size="8.5"><tspan font-weight="bold" fill="#000" stroke="#000">IL</tspan><tspan fill="#5b8fd9" stroke="#5b8fd9" style="stroke-width:0">/ITO</tspan></text><text x="386.60" y="245.50" text-anchor="middle" font-size="7.1" letter-spacing="-0.38" fill="#000" stroke="#000" style="stroke-width:0.04px">40 ML; 0.43 Å/s</text><text x="386.40" y="255.70" text-anchor="middle" font-size="8.3" fill="#000" stroke="#000" style="stroke-width:0.05px">298 K</text><g fill="#b4c7e7" stroke="#9fb5dc" stroke-width="0.5"><rect x="323.50" y="353.26" width="3.25" height="38.64"/><rect x="326.75" y="388.09" width="3.25" height="3.81"/><rect x="330.00" y="388.36" width="3.25" height="3.54"/><rect x="333.24" y="388.36" width="3.25" height="3.54"/><rect x="336.49" y="388.63" width="3.25" height="3.26"/><rect x="339.74" y="388.91" width="3.25" height="2.99"/><rect x="342.99" y="388.91" width="3.25" height="2.99"/><rect x="346.24" y="388.63" width="3.25" height="3.26"/><rect x="349.49" y="388.09" width="3.25" height="3.81"/><rect x="352.73" y="387.27" width="3.25" height="4.63"/><rect x="355.98" y="385.91" width="3.25" height="5.99"/><rect x="359.23" y="384.28" width="3.25" height="7.62"/><rect x="362.48" y="383.19" width="3.25" height="8.71"/><rect x="365.73" y="382.65" width="3.25" height="9.25"/><rect x="368.98" y="383.19" width="3.25" height="8.71"/><rect x="372.22" y="383.19" width="3.25" height="8.71"/><rect x="375.47" y="383.74" width="3.25" height="8.16"/><rect x="378.72" y="384.83" width="3.25" height="7.07"/><rect x="381.97" y="387.00" width="3.25" height="4.90"/><rect x="385.22" y="389.18" width="3.25" height="2.72"/><rect x="388.47" y="390.27" width="3.25" height="1.63"/><rect x="391.71" y="391.08" width="3.25" height="0.82"/><rect x="394.96" y="391.57" width="3.25" height="0.33"/><rect x="398.21" y="391.74" width="3.25" height="0.16"/><rect x="401.46" y="391.79" width="3.25" height="0.11"/><rect x="404.71" y="391.85" width="3.25" height="0.05"/><rect x="407.96" y="391.85" width="3.25" height="0.05"/><rect x="411.20" y="391.85" width="3.25" height="0.05"/></g><path d="M323.50 326.60H417.70V391.90" fill="none" stroke="#d9d9d9" stroke-width="0.8"/><path d="M323.50 326.60V391.90" fill="none" stroke="#d0d0d0" stroke-width="0.8"/><path d="M323.50 391.90h-2M323.50 370.13h-2M323.50 348.37h-2M323.50 326.60h-2" stroke="#bfbfbf" stroke-width="0.7"/><path d="M321.50 391.90H417.70M323.50 391.90v2M326.75 391.90v2M330.00 391.90v2M333.24 391.90v2M336.49 391.90v2M339.74 391.90v2M342.99 391.90v2M346.24 391.90v2M349.49 391.90v2M352.73 391.90v2M355.98 391.90v2M359.23 391.90v2M362.48 391.90v2M365.73 391.90v2M368.98 391.90v2M372.22 391.90v2M375.47 391.90v2M378.72 391.90v2M381.97 391.90v2M385.22 391.90v2M388.47 391.90v2M391.71 391.90v2M394.96 391.90v2M398.21 391.90v2M401.46 391.90v2M404.71 391.90v2M407.96 391.90v2M411.20 391.90v2M414.45 391.90v2M417.70 391.90v2" stroke="#bfbfbf" stroke-width="0.7" fill="none"/><path d="M328.37 370.13L331.62 388.09C332.16 388.07 333.24 387.89 334.87 387.98C336.49 388.07 339.20 388.57 341.37 388.63C343.53 388.70 346.24 388.50 347.86 388.36C349.49 388.23 350.03 388.05 351.11 387.82C352.19 387.59 353.28 387.41 354.36 387.00C355.44 386.59 356.52 385.87 357.61 385.37C358.69 384.87 359.77 384.37 360.86 384.01C361.94 383.65 363.02 383.42 364.10 383.19C365.19 382.97 366.27 382.69 367.35 382.65C368.43 382.60 369.52 382.83 370.60 382.92C371.68 383.01 372.77 383.06 373.85 383.19C374.93 383.33 376.01 383.47 377.10 383.74C378.18 384.01 379.26 384.28 380.34 384.83C381.43 385.37 382.51 386.28 383.59 387.00C384.68 387.73 385.76 388.63 386.84 389.18C387.92 389.72 389.01 389.95 390.09 390.27C391.17 390.58 392.26 390.87 393.34 391.08C394.42 391.30 394.96 391.45 396.59 391.57C398.21 391.70 399.83 391.79 403.08 391.85C406.33 391.90 413.64 391.89 416.08 391.90C418.51 391.91 417.43 391.90 417.70 391.90" fill="none" stroke="#222" stroke-width="1.2" stroke-linejoin="round"/><text x="319.00" y="394.70" text-anchor="end" font-size="8" fill="#404040" stroke="#404040" style="stroke-width:0.12px">0</text><text x="319.00" y="372.93" text-anchor="end" font-size="8" fill="#404040" stroke="#404040" style="stroke-width:0.12px">4</text><text x="319.00" y="351.17" text-anchor="end" font-size="8" fill="#404040" stroke="#404040" style="stroke-width:0.12px">8</text><text x="319.00" y="329.40" text-anchor="end" font-size="8" fill="#404040" stroke="#404040" style="stroke-width:0.12px">12</text><text x="325.12" y="404.40" text-anchor="middle" font-size="8" fill="#404040" stroke="#404040" style="stroke-width:0.12px">0.2</text><text x="347.86" y="404.40" text-anchor="middle" font-size="8" fill="#404040" stroke="#404040" style="stroke-width:0.12px">0.9</text><text x="370.60" y="404.40" text-anchor="middle" font-size="8" fill="#404040" stroke="#404040" style="stroke-width:0.12px">1.6</text><text x="393.34" y="404.40" text-anchor="middle" font-size="8" fill="#404040" stroke="#404040" style="stroke-width:0.12px">2.3</text><text x="416.08" y="404.40" text-anchor="middle" font-size="8" fill="#404040" stroke="#404040" style="stroke-width:0.12px">3</text><text x="369.10" y="415.30" text-anchor="middle" font-size="7.5" font-weight="bold" fill="#000" stroke="#000" style="stroke-width:0.3px">Diameter / µm</text><text transform="translate(305.30 360.35) rotate(-90)" text-anchor="middle" font-size="7.5" font-weight="bold" fill="#000" stroke="#000" style="stroke-width:0.3px">Counts · 10<tspan dy="-2.5" font-size="5">−4</tspan><tspan dy="2.5"> / mm</tspan><tspan dy="-2.5" font-size="5">−2</tspan></text><text x="325.20" y="324.40" font-size="8.5" font-weight="bold" fill="#000" stroke="#000">7)</text><text x="387.30" y="336.70" text-anchor="middle" font-size="8.5"><tspan font-weight="bold" fill="#000" stroke="#000">IL</tspan><tspan fill="#5b8fd9" stroke="#5b8fd9" style="stroke-width:0">/ITO</tspan></text><text x="387.50" y="345.60" text-anchor="middle" font-size="7.1" letter-spacing="-0.38" fill="#000" stroke="#000" style="stroke-width:0.04px">40 ML; 0.43 Å/s</text><text x="389.10" y="359.60" text-anchor="middle" font-size="8.5" fill="#000" stroke="#000" style="stroke-width:0.05px">without</text><text x="389.10" y="369.80" text-anchor="middle" font-size="8.5" fill="#000" stroke="#000" style="stroke-width:0.05px"><tspan font-style="italic">T</tspan> regulation</text><g fill="#f7e0d0" stroke="#e8cbb6" stroke-width="0.5"><rect x="451.90" y="78.81" width="3.24" height="11.59"/><rect x="455.14" y="71.01" width="3.24" height="19.39"/><rect x="458.38" y="56.82" width="3.24" height="33.58"/><rect x="461.61" y="45.98" width="3.24" height="44.42"/><rect x="464.85" y="33.42" width="3.24" height="56.98"/><rect x="468.09" y="41.00" width="3.24" height="49.40"/><rect x="471.33" y="57.68" width="3.24" height="32.72"/><rect x="474.57" y="75.23" width="3.24" height="15.17"/><rect x="477.80" y="84.33" width="3.24" height="6.07"/><rect x="481.04" y="87.80" width="3.24" height="2.60"/><rect x="484.28" y="89.32" width="3.24" height="1.08"/><rect x="487.52" y="89.97" width="3.24" height="0.43"/><rect x="490.76" y="90.18" width="3.24" height="0.22"/><rect x="493.99" y="90.29" width="3.24" height="0.11"/><rect x="497.23" y="90.34" width="3.24" height="0.06"/><rect x="500.47" y="90.36" width="3.24" height="0.04"/><rect x="503.71" y="90.38" width="3.24" height="0.02"/></g><path d="M451.90 25.40H545.80V90.40" fill="none" stroke="#d9d9d9" stroke-width="0.8"/><path d="M451.90 25.40V90.40" fill="none" stroke="#d0d0d0" stroke-width="0.8"/><path d="M451.90 90.40h-2M451.90 68.73h-2M451.90 47.07h-2M451.90 25.40h-2" stroke="#bfbfbf" stroke-width="0.7"/><path d="M449.90 90.40H545.80M451.90 90.40v2M455.14 90.40v2M458.38 90.40v2M461.61 90.40v2M464.85 90.40v2M468.09 90.40v2M471.33 90.40v2M474.57 90.40v2M477.80 90.40v2M481.04 90.40v2M484.28 90.40v2M487.52 90.40v2M490.76 90.40v2M493.99 90.40v2M497.23 90.40v2M500.47 90.40v2M503.71 90.40v2M506.94 90.40v2M510.18 90.40v2M513.42 90.40v2M516.66 90.40v2M519.90 90.40v2M523.13 90.40v2M526.37 90.40v2M529.61 90.40v2M532.85 90.40v2M536.09 90.40v2M539.32 90.40v2M542.56 90.40v2M545.80 90.40v2" stroke="#bfbfbf" stroke-width="0.7" fill="none"/><path d="M456.76 74.37C457.11 73.14 458.05 70.21 458.89 67.00C459.74 63.79 460.83 59.02 461.81 55.08C462.79 51.15 463.99 46.13 464.79 43.38C465.59 40.64 466.07 39.48 466.60 38.62C467.13 37.75 467.43 37.89 467.99 38.18C468.56 38.47 469.30 38.76 470.00 40.35C470.70 41.94 471.47 44.76 472.20 47.72C472.94 50.68 473.67 54.54 474.40 58.12C475.14 61.69 475.87 65.72 476.61 69.17C477.34 72.62 478.06 76.21 478.81 78.81C479.56 81.41 480.24 83.16 481.11 84.77C481.97 86.37 483.03 87.58 483.99 88.45C484.95 89.32 485.85 89.65 486.87 89.97C487.89 90.28 488.92 90.28 490.11 90.36C491.29 90.43 484.98 90.39 493.99 90.40C503.01 90.41 535.55 90.40 544.18 90.40C552.82 90.40 545.53 90.40 545.80 90.40" fill="none" stroke="#222" stroke-width="1.2" stroke-linejoin="round"/><text x="447.40" y="93.20" text-anchor="end" font-size="8" fill="#404040" stroke="#404040" style="stroke-width:0.12px">0</text><text x="447.40" y="71.53" text-anchor="end" font-size="8" fill="#404040" stroke="#404040" style="stroke-width:0.12px">10</text><text x="447.40" y="49.87" text-anchor="end" font-size="8" fill="#404040" stroke="#404040" style="stroke-width:0.12px">20</text><text x="447.40" y="28.20" text-anchor="end" font-size="8" fill="#404040" stroke="#404040" style="stroke-width:0.12px">30</text><text x="453.52" y="102.90" text-anchor="middle" font-size="8" fill="#404040" stroke="#404040" style="stroke-width:0.12px">0.2</text><text x="476.18" y="102.90" text-anchor="middle" font-size="8" fill="#404040" stroke="#404040" style="stroke-width:0.12px">0.9</text><text x="498.85" y="102.90" text-anchor="middle" font-size="8" fill="#404040" stroke="#404040" style="stroke-width:0.12px">1.6</text><text x="521.52" y="102.90" text-anchor="middle" font-size="8" fill="#404040" stroke="#404040" style="stroke-width:0.12px">2.3</text><text x="544.18" y="102.90" text-anchor="middle" font-size="8" fill="#404040" stroke="#404040" style="stroke-width:0.12px">3</text><text x="497.35" y="113.80" text-anchor="middle" font-size="7.5" font-weight="bold" fill="#000" stroke="#000" style="stroke-width:0.3px">Diameter / µm</text><text transform="translate(433.70 60.40) rotate(-90)" text-anchor="middle" font-size="7.5" font-weight="bold" fill="#000" stroke="#000" style="stroke-width:0.3px">Counts · 10<tspan dy="-2.5" font-size="5">−4</tspan><tspan dy="2.5"> / mm</tspan><tspan dy="-2.5" font-size="5">−2</tspan></text><text x="452.10" y="23.20" font-size="8.5" font-weight="bold" fill="#000" stroke="#000">2)</text><text x="515.40" y="35.50" text-anchor="middle" font-size="8.5"><tspan font-weight="bold" fill="#000" stroke="#000">IL</tspan><tspan fill="#5b8fd9" stroke="#5b8fd9" style="stroke-width:0">/ITO</tspan></text><text x="515.60" y="44.40" text-anchor="middle" font-size="7.1" letter-spacing="-0.38" fill="#000" stroke="#000" style="stroke-width:0.04px">40 ML; 0.44 Å/s</text><text x="515.40" y="54.60" text-anchor="middle" font-size="8.3" fill="#000" stroke="#000" style="stroke-width:0.05px">273 K</text><g fill="#f7e0d0" stroke="#e8cbb6" stroke-width="0.5"><rect x="451.60" y="176.12" width="3.24" height="15.38"/><rect x="454.84" y="183.70" width="3.24" height="7.80"/><rect x="458.08" y="172.43" width="3.24" height="19.07"/><rect x="461.31" y="158.57" width="3.24" height="32.93"/><rect x="464.55" y="146.00" width="3.24" height="45.50"/><rect x="467.79" y="140.80" width="3.24" height="50.70"/><rect x="471.03" y="153.58" width="3.24" height="37.92"/><rect x="474.27" y="169.83" width="3.24" height="21.67"/><rect x="477.50" y="183.70" width="3.24" height="7.80"/><rect x="480.74" y="188.90" width="3.24" height="2.60"/><rect x="483.98" y="190.42" width="3.24" height="1.08"/><rect x="487.22" y="191.07" width="3.24" height="0.43"/><rect x="490.46" y="191.28" width="3.24" height="0.22"/><rect x="493.69" y="191.39" width="3.24" height="0.11"/><rect x="496.93" y="191.46" width="3.24" height="0.04"/><rect x="500.17" y="191.48" width="3.24" height="0.02"/></g><path d="M451.60 126.50H545.50V191.50" fill="none" stroke="#d9d9d9" stroke-width="0.8"/><path d="M451.60 126.50V191.50" fill="none" stroke="#d0d0d0" stroke-width="0.8"/><path d="M451.60 191.50h-2M451.60 169.83h-2M451.60 148.17h-2M451.60 126.50h-2" stroke="#bfbfbf" stroke-width="0.7"/><path d="M449.60 191.50H545.50M451.60 191.50v2M454.84 191.50v2M458.08 191.50v2M461.31 191.50v2M464.55 191.50v2M467.79 191.50v2M471.03 191.50v2M474.27 191.50v2M477.50 191.50v2M480.74 191.50v2M483.98 191.50v2M487.22 191.50v2M490.46 191.50v2M493.69 191.50v2M496.93 191.50v2M500.17 191.50v2M503.41 191.50v2M506.64 191.50v2M509.88 191.50v2M513.12 191.50v2M516.36 191.50v2M519.60 191.50v2M522.83 191.50v2M526.07 191.50v2M529.31 191.50v2M532.55 191.50v2M535.79 191.50v2M539.02 191.50v2M542.26 191.50v2M545.50 191.50v2" stroke="#bfbfbf" stroke-width="0.7" fill="none"/><path d="M456.68 180.67C457.30 180.23 459.31 179.94 460.41 178.07C461.50 176.19 462.27 173.05 463.26 169.40C464.24 165.75 465.43 159.87 466.30 156.18C467.17 152.50 467.89 149.32 468.50 147.30C469.12 145.28 469.38 144.19 469.99 144.05C470.61 143.91 471.46 144.66 472.19 146.43C472.93 148.20 473.66 151.45 474.40 154.67C475.13 157.88 475.86 162.25 476.60 165.72C477.33 169.18 478.05 172.61 478.80 175.47C479.55 178.32 480.23 180.63 481.10 182.83C481.96 185.04 483.01 187.35 483.98 188.68C484.95 190.02 485.87 190.39 486.89 190.85C487.92 191.31 489.00 191.33 490.13 191.44C491.26 191.54 484.73 191.49 493.69 191.50C502.65 191.51 535.25 191.50 543.88 191.50C552.52 191.50 545.23 191.50 545.50 191.50" fill="none" stroke="#222" stroke-width="1.2" stroke-linejoin="round"/><text x="447.10" y="194.30" text-anchor="end" font-size="8" fill="#404040" stroke="#404040" style="stroke-width:0.12px">0</text><text x="447.10" y="172.63" text-anchor="end" font-size="8" fill="#404040" stroke="#404040" style="stroke-width:0.12px">10</text><text x="447.10" y="150.97" text-anchor="end" font-size="8" fill="#404040" stroke="#404040" style="stroke-width:0.12px">20</text><text x="447.10" y="129.30" text-anchor="end" font-size="8" fill="#404040" stroke="#404040" style="stroke-width:0.12px">30</text><text x="453.22" y="204.00" text-anchor="middle" font-size="8" fill="#404040" stroke="#404040" style="stroke-width:0.12px">0.2</text><text x="475.88" y="204.00" text-anchor="middle" font-size="8" fill="#404040" stroke="#404040" style="stroke-width:0.12px">0.9</text><text x="498.55" y="204.00" text-anchor="middle" font-size="8" fill="#404040" stroke="#404040" style="stroke-width:0.12px">1.6</text><text x="521.22" y="204.00" text-anchor="middle" font-size="8" fill="#404040" stroke="#404040" style="stroke-width:0.12px">2.3</text><text x="543.88" y="204.00" text-anchor="middle" font-size="8" fill="#404040" stroke="#404040" style="stroke-width:0.12px">3</text><text x="497.05" y="214.90" text-anchor="middle" font-size="7.5" font-weight="bold" fill="#000" stroke="#000" style="stroke-width:0.3px">Diameter / µm</text><text transform="translate(434.60 161.00) rotate(-90)" text-anchor="middle" font-size="7.5" font-weight="bold" fill="#000" stroke="#000" style="stroke-width:0.3px">Counts · 10<tspan dy="-2.5" font-size="5">−4</tspan><tspan dy="2.5"> / mm</tspan><tspan dy="-2.5" font-size="5">−2</tspan></text><text x="452.10" y="124.30" font-size="8.5" font-weight="bold" fill="#000" stroke="#000">4)</text><text x="515.10" y="136.60" text-anchor="middle" font-size="8.5"><tspan font-weight="bold" fill="#000" stroke="#000">IL</tspan><tspan fill="#5b8fd9" stroke="#5b8fd9" style="stroke-width:0">/ITO</tspan></text><text x="515.30" y="145.50" text-anchor="middle" font-size="7.1" letter-spacing="-0.38" fill="#000" stroke="#000" style="stroke-width:0.04px">40 ML; 0.39 Å/s</text><text x="515.10" y="155.70" text-anchor="middle" font-size="8.3" fill="#000" stroke="#000" style="stroke-width:0.05px">283 K</text><g fill="#f7e0d0" stroke="#e8cbb6" stroke-width="0.5"><rect x="451.60" y="276.61" width="3.22" height="14.69"/><rect x="454.82" y="279.42" width="3.22" height="11.88"/><rect x="458.05" y="264.52" width="3.22" height="26.78"/><rect x="461.27" y="251.12" width="3.22" height="40.18"/><rect x="464.50" y="239.46" width="3.22" height="51.84"/><rect x="467.72" y="243.56" width="3.22" height="47.74"/><rect x="470.94" y="258.68" width="3.22" height="32.62"/><rect x="474.17" y="275.75" width="3.22" height="15.55"/><rect x="477.39" y="285.04" width="3.22" height="6.26"/><rect x="480.62" y="289.14" width="3.22" height="2.16"/><rect x="483.84" y="290.65" width="3.22" height="0.65"/><rect x="487.07" y="290.98" width="3.22" height="0.32"/><rect x="490.29" y="291.19" width="3.22" height="0.11"/><rect x="493.51" y="291.26" width="3.22" height="0.04"/><rect x="496.74" y="291.28" width="3.22" height="0.02"/></g><path d="M451.60 226.50H545.10V291.30" fill="none" stroke="#d9d9d9" stroke-width="0.8"/><path d="M451.60 226.50V291.30" fill="none" stroke="#d0d0d0" stroke-width="0.8"/><path d="M451.60 291.30h-2M451.60 269.70h-2M451.60 248.10h-2M451.60 226.50h-2" stroke="#bfbfbf" stroke-width="0.7"/><path d="M449.60 291.30H545.10M451.60 291.30v2M454.82 291.30v2M458.05 291.30v2M461.27 291.30v2M464.50 291.30v2M467.72 291.30v2M470.94 291.30v2M474.17 291.30v2M477.39 291.30v2M480.62 291.30v2M483.84 291.30v2M487.07 291.30v2M490.29 291.30v2M493.51 291.30v2M496.74 291.30v2M499.96 291.30v2M503.19 291.30v2M506.41 291.30v2M509.63 291.30v2M512.86 291.30v2M516.08 291.30v2M519.31 291.30v2M522.53 291.30v2M525.76 291.30v2M528.98 291.30v2M532.20 291.30v2M535.43 291.30v2M538.65 291.30v2M541.88 291.30v2M545.10 291.30v2" stroke="#bfbfbf" stroke-width="0.7" fill="none"/><path d="M456.44 279.20C456.84 278.56 457.97 277.44 458.85 275.32C459.74 273.19 460.77 269.88 461.76 266.46C462.74 263.04 463.89 258.11 464.75 254.80C465.62 251.48 466.26 248.53 466.95 246.59C467.63 244.64 468.24 243.38 468.85 243.13C469.46 242.88 469.96 243.64 470.62 245.08C471.28 246.52 472.08 249.18 472.81 251.77C473.55 254.36 474.26 257.42 475.01 260.63C475.75 263.83 476.55 267.79 477.30 271.00C478.04 274.20 478.65 277.15 479.49 279.85C480.33 282.55 481.47 285.50 482.36 287.20C483.24 288.89 483.97 289.37 484.81 290.00C485.65 290.63 486.42 290.77 487.39 290.98C488.36 291.18 489.54 291.20 490.61 291.26C491.69 291.31 485.02 291.29 493.84 291.30C502.65 291.31 534.94 291.30 543.49 291.30C552.03 291.30 544.83 291.30 545.10 291.30" fill="none" stroke="#222" stroke-width="1.2" stroke-linejoin="round"/><text x="447.10" y="294.10" text-anchor="end" font-size="8" fill="#404040" stroke="#404040" style="stroke-width:0.12px">0</text><text x="447.10" y="272.50" text-anchor="end" font-size="8" fill="#404040" stroke="#404040" style="stroke-width:0.12px">10</text><text x="447.10" y="250.90" text-anchor="end" font-size="8" fill="#404040" stroke="#404040" style="stroke-width:0.12px">20</text><text x="447.10" y="229.30" text-anchor="end" font-size="8" fill="#404040" stroke="#404040" style="stroke-width:0.12px">30</text><text x="453.21" y="303.80" text-anchor="middle" font-size="8" fill="#404040" stroke="#404040" style="stroke-width:0.12px">0.2</text><text x="475.78" y="303.80" text-anchor="middle" font-size="8" fill="#404040" stroke="#404040" style="stroke-width:0.12px">0.9</text><text x="498.35" y="303.80" text-anchor="middle" font-size="8" fill="#404040" stroke="#404040" style="stroke-width:0.12px">1.6</text><text x="520.92" y="303.80" text-anchor="middle" font-size="8" fill="#404040" stroke="#404040" style="stroke-width:0.12px">2.3</text><text x="543.49" y="303.80" text-anchor="middle" font-size="8" fill="#404040" stroke="#404040" style="stroke-width:0.12px">3</text><text x="496.85" y="314.70" text-anchor="middle" font-size="7.5" font-weight="bold" fill="#000" stroke="#000" style="stroke-width:0.3px">Diameter / µm</text><text transform="translate(434.40 261.40) rotate(-90)" text-anchor="middle" font-size="7.5" font-weight="bold" fill="#000" stroke="#000" style="stroke-width:0.3px">Counts · 10<tspan dy="-2.5" font-size="5">−4</tspan><tspan dy="2.5"> / mm</tspan><tspan dy="-2.5" font-size="5">−2</tspan></text><text x="452.10" y="224.30" font-size="8.5" font-weight="bold" fill="#000" stroke="#000">6)</text><text x="514.70" y="236.60" text-anchor="middle" font-size="8.5"><tspan font-weight="bold" fill="#000" stroke="#000">IL</tspan><tspan fill="#5b8fd9" stroke="#5b8fd9" style="stroke-width:0">/ITO</tspan></text><text x="514.90" y="245.50" text-anchor="middle" font-size="7.1" letter-spacing="-0.38" fill="#000" stroke="#000" style="stroke-width:0.04px">40 ML; 0.43 Å/s</text><text x="514.70" y="255.70" text-anchor="middle" font-size="8.3" fill="#000" stroke="#000" style="stroke-width:0.05px">298 K</text><g fill="#f7e0d0" stroke="#e8cbb6" stroke-width="0.5"><rect x="450.30" y="377.17" width="3.26" height="13.23"/><rect x="453.56" y="377.17" width="3.26" height="13.23"/><rect x="456.81" y="367.09" width="3.26" height="23.31"/><rect x="460.07" y="354.49" width="3.26" height="35.91"/><rect x="463.32" y="345.67" width="3.26" height="44.73"/><rect x="466.58" y="346.93" width="3.26" height="43.47"/><rect x="469.83" y="360.37" width="3.26" height="30.03"/><rect x="473.09" y="372.97" width="3.26" height="17.43"/><rect x="476.34" y="381.37" width="3.26" height="9.03"/><rect x="479.60" y="384.52" width="3.26" height="5.88"/><rect x="482.85" y="386.20" width="3.26" height="4.20"/><rect x="486.11" y="387.67" width="3.26" height="2.73"/><rect x="489.36" y="388.72" width="3.26" height="1.68"/><rect x="492.62" y="389.35" width="3.26" height="1.05"/><rect x="495.87" y="389.77" width="3.26" height="0.63"/><rect x="499.13" y="389.98" width="3.26" height="0.42"/><rect x="502.38" y="390.19" width="3.26" height="0.21"/><rect x="505.64" y="390.29" width="3.26" height="0.11"/><rect x="508.89" y="390.34" width="3.26" height="0.06"/><rect x="512.15" y="390.36" width="3.26" height="0.04"/><rect x="515.40" y="390.38" width="3.26" height="0.02"/></g><path d="M450.30 327.40H544.70V390.40" fill="none" stroke="#d9d9d9" stroke-width="0.8"/><path d="M450.30 327.40V390.40" fill="none" stroke="#d0d0d0" stroke-width="0.8"/><path d="M450.30 390.40h-2M450.30 369.40h-2M450.30 348.40h-2M450.30 327.40h-2" stroke="#bfbfbf" stroke-width="0.7"/><path d="M448.30 390.40H544.70M450.30 390.40v2M453.56 390.40v2M456.81 390.40v2M460.07 390.40v2M463.32 390.40v2M466.58 390.40v2M469.83 390.40v2M473.09 390.40v2M476.34 390.40v2M479.60 390.40v2M482.85 390.40v2M486.11 390.40v2M489.36 390.40v2M492.62 390.40v2M495.87 390.40v2M499.13 390.40v2M502.38 390.40v2M505.64 390.40v2M508.89 390.40v2M512.15 390.40v2M515.40 390.40v2M518.66 390.40v2M521.91 390.40v2M525.17 390.40v2M528.42 390.40v2M531.68 390.40v2M534.93 390.40v2M538.19 390.40v2M541.44 390.40v2M544.70 390.40v2" stroke="#bfbfbf" stroke-width="0.7" fill="none"/><path d="M455.18 376.96C455.47 376.68 456.12 376.64 456.91 375.28C457.69 373.91 458.92 371.39 459.90 368.77C460.88 366.14 461.95 362.40 462.80 359.53C463.65 356.66 464.26 353.72 465.01 351.55C465.76 349.38 466.68 347.42 467.29 346.51C467.91 345.60 468.21 345.81 468.69 346.09C469.17 346.37 469.57 346.79 470.19 348.19C470.81 349.59 471.65 351.97 472.40 354.49C473.16 357.01 473.85 360.23 474.71 363.31C475.58 366.39 476.63 370.24 477.61 372.97C478.59 375.70 479.49 377.73 480.61 379.69C481.72 381.65 483.09 383.36 484.32 384.73C485.55 386.09 486.65 387.04 487.99 387.88C489.34 388.72 490.91 389.37 492.39 389.77C493.87 390.17 495.45 390.19 496.85 390.29C498.24 390.40 493.05 390.38 500.76 390.40C508.46 390.42 535.75 390.40 543.07 390.40C550.40 390.40 544.43 390.40 544.70 390.40" fill="none" stroke="#222" stroke-width="1.2" stroke-linejoin="round"/><text x="445.80" y="393.20" text-anchor="end" font-size="8" fill="#404040" stroke="#404040" style="stroke-width:0.12px">0</text><text x="445.80" y="372.20" text-anchor="end" font-size="8" fill="#404040" stroke="#404040" style="stroke-width:0.12px">10</text><text x="445.80" y="351.20" text-anchor="end" font-size="8" fill="#404040" stroke="#404040" style="stroke-width:0.12px">20</text><text x="445.80" y="330.20" text-anchor="end" font-size="8" fill="#404040" stroke="#404040" style="stroke-width:0.12px">30</text><text x="451.93" y="402.90" text-anchor="middle" font-size="8" fill="#404040" stroke="#404040" style="stroke-width:0.12px">0.2</text><text x="474.71" y="402.90" text-anchor="middle" font-size="8" fill="#404040" stroke="#404040" style="stroke-width:0.12px">0.9</text><text x="497.50" y="402.90" text-anchor="middle" font-size="8" fill="#404040" stroke="#404040" style="stroke-width:0.12px">1.6</text><text x="520.29" y="402.90" text-anchor="middle" font-size="8" fill="#404040" stroke="#404040" style="stroke-width:0.12px">2.3</text><text x="543.07" y="402.90" text-anchor="middle" font-size="8" fill="#404040" stroke="#404040" style="stroke-width:0.12px">3</text><text x="496.00" y="413.80" text-anchor="middle" font-size="7.5" font-weight="bold" fill="#000" stroke="#000" style="stroke-width:0.3px">Diameter / µm</text><text transform="translate(433.60 359.90) rotate(-90)" text-anchor="middle" font-size="7.5" font-weight="bold" fill="#000" stroke="#000" style="stroke-width:0.3px">Counts · 10<tspan dy="-2.5" font-size="5">−4</tspan><tspan dy="2.5"> / mm</tspan><tspan dy="-2.5" font-size="5">−2</tspan></text><text x="452.10" y="325.20" font-size="8.5" font-weight="bold" fill="#000" stroke="#000">8)</text><text x="514.30" y="337.50" text-anchor="middle" font-size="8.5"><tspan font-weight="bold" fill="#000" stroke="#000">IL</tspan><tspan fill="#5b8fd9" stroke="#5b8fd9" style="stroke-width:0">/ITO</tspan></text><text x="514.50" y="346.40" text-anchor="middle" font-size="7.1" letter-spacing="-0.38" fill="#000" stroke="#000" style="stroke-width:0.04px">40 ML; 0.43 Å/s</text><text x="516.10" y="360.40" text-anchor="middle" font-size="8.5" fill="#000" stroke="#000" style="stroke-width:0.05px">without</text><text x="516.10" y="370.60" text-anchor="middle" font-size="8.5" fill="#000" stroke="#000" style="stroke-width:0.05px"><tspan font-style="italic">T</tspan> regulation</text><path d="M362.3 69.6V298.6M468.6 135V348" stroke="#6d6d6d" stroke-width="0.7" stroke-dasharray="1.2 1"/></svg>
<div class="ttl">IL = [C<sub>2</sub>C<sub>1</sub>im][NTf<sub>2</sub>]</div>
<div class="sc">20 <span style="letter-spacing:0.5px;margin-left:0.8px">µm</span></div>
<svg width="550" height="419" style="position:absolute;left:0;top:0"><path d="M249.9 16.4H276.7" stroke="#000" stroke-width="1.4"/><circle cx="249.9" cy="16.4" r="1.5"/><circle cx="276.7" cy="16.4" r="1.5"/></svg>
<div class="pl" style="left:9.8px;top:25.1px">A)</div>
<div class="bl" style="left:11px;top:100.1px"><span class="b">IL</span>/ITO <b>(273 K)</b></div>
<div class="pl" style="left:151.8px;top:25.1px">B)</div>
<div class="bl" style="left:150.5px;top:100.1px"><span class="b">IL</span><span class="g">/Ag</span> <b>(273 K)</b></div>
<div class="pl" style="left:9.8px;top:123.1px">C)</div>
<div class="bl" style="left:11px;top:198.6px"><span class="b">IL</span>/ITO <b>(283 K)</b></div>
<div class="pl" style="left:151.8px;top:123.1px">D)</div>
<div class="bl" style="left:150.5px;top:198.6px"><span class="b">IL</span><span class="g">/Ag</span> <b>(283 K)</b></div>
<div class="pl" style="left:9.8px;top:221.6px">E)</div>
<div class="bl" style="left:11px;top:296.6px"><span class="b">IL</span>/ITO <b>(298 K)</b></div>
<div class="pl" style="left:151.8px;top:221.6px">F)</div>
<div class="bl" style="left:150.5px;top:296.6px"><span class="b">IL</span><span class="g">/Ag</span> <b>(298 K)</b></div>
<div class="pl" style="left:9.8px;top:320.1px">G)</div>
<div class="bl" style="left:11px;top:395.1px"><span class="b">IL</span>/ITO <b><span style="font-size:9.3px">(without <i>T</i> regulation)</span></b></div>
<div class="pl" style="left:151.8px;top:320.1px">H)</div>
<div class="bl" style="left:150.5px;top:395.1px"><span class="b">IL</span><span class="g">/Ag</span> <b><span style="font-size:9.3px">(without <i>T</i> regulation)</span></b></div>
</div></body></html>
